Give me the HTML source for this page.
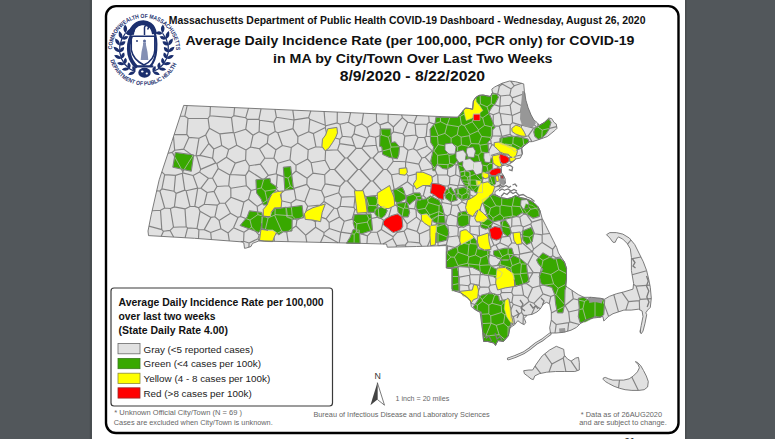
<!DOCTYPE html>
<html><head><meta charset="utf-8">
<style>
html,body{margin:0;padding:0;width:775px;height:439px;overflow:hidden;background:#fff;font-family:"Liberation Sans", sans-serif;}
svg{display:block}
</style></head><body>
<svg width="775" height="439" viewBox="0 0 775 439" style='font-family: "Liberation Sans", sans-serif;'>
<rect x="0" y="0" width="92" height="439" fill="#52575b"/>
<rect x="685" y="0" width="90" height="439" fill="#52575b"/>
<rect x="89.8" y="0" width="2" height="439" fill="#484c4f"/>
<rect x="685" y="0" width="1.5" height="439" fill="#484c4f"/>
<rect x="106" y="6.1" width="572.5" height="426.9" rx="10" ry="10" fill="#fff" stroke="#000" stroke-width="2.4"/>
<text x="624.5" y="443.6" font-size="9.5" font-weight="bold" fill="#333">21</text>

<!-- seal -->
<g id="seal" fill="#1b2f6e" stroke="none">
  <defs>
    <path id="arcTop" d="M112.0 49.4 A32.0 32.0 0 0 1 176.0 50.6"/>
    <path id="arcBot" d="M110.2 60.3 A35.3 35.3 0 0 0 177.2 62.1"/>
  </defs>
  <text font-size="5.9" font-weight="bold"><textPath href="#arcTop" textLength="100" lengthAdjust="spacingAndGlyphs">COMMONWEALTH OF MASSACHUSETTS</textPath></text>
  <text font-size="5.8" font-weight="bold"><textPath href="#arcBot" textLength="86" lengthAdjust="spacingAndGlyphs">DEPARTMENT OF PUBLIC HEALTH</textPath></text>
  <path d="M125.4 33.3 Q128.9 28.8 125.1 24.6 Q121.7 29.1 125.4 33.3Z"/>
<path d="M125.4 33.3 Q129.3 36.6 132.6 32.8 Q128.8 29.4 125.4 33.3Z"/>
<path d="M121.8 39.0 Q123.8 33.9 119.2 30.9 Q117.1 36.1 121.8 39.0Z"/>
<path d="M121.8 39.0 Q126.3 41.2 128.5 36.6 Q123.9 34.5 121.8 39.0Z"/>
<path d="M119.8 45.5 Q120.4 40.1 115.2 38.5 Q114.6 43.9 119.8 45.5Z"/>
<path d="M119.8 45.5 Q124.7 46.3 125.5 41.5 Q120.7 40.6 119.8 45.5Z"/>
<path d="M119.7 52.2 Q118.9 46.9 113.5 46.8 Q114.4 52.1 119.7 52.2Z"/>
<path d="M119.7 52.2 Q124.6 51.7 124.1 46.9 Q119.2 47.4 119.7 52.2Z"/>
<path d="M121.4 58.6 Q119.2 53.9 114.1 55.2 Q116.4 59.9 121.4 58.6Z"/>
<path d="M121.4 58.6 Q125.9 56.8 124.1 52.4 Q119.7 54.2 121.4 58.6Z"/>
<path d="M124.8 64.3 Q121.4 60.4 117.0 63.0 Q120.4 66.9 124.8 64.3Z"/>
<path d="M124.8 64.3 Q128.5 61.4 125.7 57.7 Q122.0 60.5 124.8 64.3Z"/>
<path d="M129.5 68.8 Q125.3 66.0 121.8 69.6 Q126.0 72.4 129.5 68.8Z"/>
<path d="M129.5 68.8 Q132.2 65.1 128.6 62.3 Q125.8 66.0 129.5 68.8Z"/>
<path d="M135.2 71.8 Q130.5 70.3 128.2 74.7 Q132.9 76.2 135.2 71.8Z"/>
<path d="M135.2 71.8 Q136.8 67.6 132.6 66.0 Q131.0 70.2 135.2 71.8Z"/>
<path d="M125.4 33.3L121.8 39.0L119.8 45.5L119.7 52.2L121.4 58.6L124.8 64.3L129.5 68.8L135.2 71.8" fill="none" stroke="#1b2f6e" stroke-width="1.2"/>
<path d="M162.6 33.3 Q166.3 29.1 162.9 24.6 Q159.1 28.8 162.6 33.3Z"/>
<path d="M162.6 33.3 Q159.2 29.4 155.4 32.8 Q158.7 36.6 162.6 33.3Z"/>
<path d="M166.2 39.0 Q170.9 36.1 168.8 30.9 Q164.2 33.9 166.2 39.0Z"/>
<path d="M166.2 39.0 Q164.1 34.5 159.5 36.6 Q161.7 41.2 166.2 39.0Z"/>
<path d="M168.2 45.5 Q173.4 43.9 172.8 38.5 Q167.6 40.1 168.2 45.5Z"/>
<path d="M168.2 45.5 Q167.3 40.6 162.5 41.5 Q163.3 46.3 168.2 45.5Z"/>
<path d="M168.3 52.2 Q173.6 52.1 174.5 46.8 Q169.1 46.9 168.3 52.2Z"/>
<path d="M168.3 52.2 Q168.8 47.4 163.9 46.9 Q163.4 51.7 168.3 52.2Z"/>
<path d="M166.6 58.6 Q171.6 59.9 173.9 55.2 Q168.8 53.9 166.6 58.6Z"/>
<path d="M166.6 58.6 Q168.3 54.2 163.9 52.4 Q162.1 56.8 166.6 58.6Z"/>
<path d="M163.2 64.3 Q167.6 66.9 171.0 63.0 Q166.6 60.4 163.2 64.3Z"/>
<path d="M163.2 64.3 Q166.0 60.5 162.3 57.7 Q159.5 61.4 163.2 64.3Z"/>
<path d="M158.5 68.8 Q162.0 72.4 166.2 69.6 Q162.7 66.0 158.5 68.8Z"/>
<path d="M158.5 68.8 Q162.2 66.0 159.4 62.3 Q155.8 65.1 158.5 68.8Z"/>
<path d="M152.8 71.8 Q155.1 76.2 159.8 74.7 Q157.5 70.3 152.8 71.8Z"/>
<path d="M152.8 71.8 Q157.0 70.2 155.4 66.0 Q151.2 67.6 152.8 71.8Z"/>
<path d="M162.6 33.3L166.2 39.0L168.2 45.5L168.3 52.2L166.6 58.6L163.2 64.3L158.5 68.8L152.8 71.8" fill="none" stroke="#1b2f6e" stroke-width="1.2"/>
  <!-- snake top coil -->
  <path d="M131.5 35 C130 22 152 16 154.5 34" fill="none" stroke="#1b2f6e" stroke-width="5"/>
  <ellipse cx="130.8" cy="31.5" rx="4.6" ry="2.8" transform="rotate(-35 130.8 31.5)"/>
  <path d="M144.5 35 L144.5 27.5 Q144.8 25 147.5 25.6 Q149.5 27 147.5 29.5" fill="none" stroke="#1b2f6e" stroke-width="1.5"/>
  <!-- shield -->
  <path d="M131.3 36.2 L154.8 36.2 L154.8 50 Q154.5 60 143.9 65 Q133.3 60 131.3 50 Z" fill="#fff" stroke="#1b2f6e" stroke-width="1.5"/>
  <path d="M143 42.5 h3 v2.5 l1.5 7 l0.8 8 h-7.6 l0.8 -8 l1.5 -7 z" fill="#5a6a9a" opacity="0.75"/>
  <circle cx="144.5" cy="41" r="1.5" fill="#5a6a9a"/>
  <circle cx="137" cy="41" r="0.9" fill="#1b2f6e"/>
  <!-- snake body -->
  <path d="M131.5 35.5 Q127.5 44 129.2 54 Q131 62 137 67.5" fill="none" stroke="#1b2f6e" stroke-width="3.6"/>
  <path d="M154 31 Q157 38 156.2 50 Q155.5 61 150 66.5" fill="none" stroke="#1b2f6e" stroke-width="2.2"/>
  <rect x="134" y="65.2" width="19.5" height="2.4" rx="1"/>
  <ellipse cx="144.5" cy="72.8" rx="6.2" ry="5"/>
  <ellipse cx="142.3" cy="71.5" rx="1.3" ry="1.1" fill="#fff"/>
  <ellipse cx="146.8" cy="73.5" rx="1.1" ry="0.9" fill="#fff"/>
  
</g>

<!-- title -->
<g font-weight="bold" fill="#111">
<text x="168.7" y="23.9" font-size="10.5" textLength="476.8" lengthAdjust="spacingAndGlyphs">Massachusetts Department of Public Health COVID-19 Dashboard - Wednesday, August 26, 2020</text>
<text x="185.4" y="44.6" font-size="13.6" textLength="449" lengthAdjust="spacingAndGlyphs">Average Daily Incidence Rate (per 100,000, PCR only) for COVID-19</text>
<text x="273" y="63.2" font-size="13.6" textLength="279.5" lengthAdjust="spacingAndGlyphs">in MA by City/Town Over Last Two Weeks</text>
<text x="339.7" y="81.4" font-size="14.2" textLength="145.2" lengthAdjust="spacingAndGlyphs">8/9/2020 - 8/22/2020</text>
</g>

<!-- map -->
<g id="map">
  <path d="M183.7 105.4L457.5 117.3L459.8 114.9L463.8 109.7L465.8 108.1L469.4 108.5L472.6 109.3L473.4 101.0L475.8 97.4L479.0 95.4L482.9 95.0L490.3 96.5L492.5 92.8L491.8 89.1L494.8 86.9L502.2 83.2L509.6 81.0L515.5 81.7L523.7 83.9L524.4 91.3L525.9 100.2L528.1 107.6L531.1 115.0L534.0 120.2L537.0 122.4L539.2 125.4L544.4 122.4L548.8 118.0L551.8 118.7L554.0 122.4L556.2 123.9L557.0 128.3L554.8 130.5L551.1 133.5L547.4 136.5L541.4 138.7L537.0 140.2L532.6 141.6L529.2 141.8L526.2 144.1L521.8 147.8L522.5 153.7L520.3 158.1L515.9 158.9L512.9 161.8L509.2 164.0L506.0 165.0L502.0 165.5L501.3 168.8L501.3 172.5L503.2 175.0L505.1 178.8L505.3 183.3L501.2 187.4L497.0 190.5L495.0 191.5L495.0 194.6L501.2 197.7L507.3 198.7L511.4 197.7L515.5 195.6L520.6 197.7L525.8 198.7L530.9 200.8L534.0 202.8L538.1 206.9L540.1 211.0L542.1 218.3L545.8 225.6L549.4 232.9L553.1 240.2L556.7 247.5L558.5 253.0L564.3 261.8L566.5 268.3L566.5 279.1L565.4 285.6L567.4 287.3L572.8 290.9L578.3 294.6L583.8 297.3L591.1 297.3L600.2 298.2L604.7 299.2L609.3 296.4L616.6 293.7L623.9 291.9L633.0 289.1L633.6 283.4L632.5 277.0L631.4 270.5L631.4 257.5L630.3 248.8L627.1 243.4L622.8 239.1L618.4 236.9L616.7 239.1L615.2 242.3L613.0 242.3L609.8 238.0L606.5 234.7L609.8 232.6L616.3 232.6L622.8 234.1L629.3 238.0L634.7 244.5L639.0 253.1L643.3 261.8L646.6 270.5L648.7 279.1L650.3 287.3L651.3 298.2L650.3 307.4L647.6 310.1L645.8 312.8L646.7 314.7L644.9 323.8L643.0 331.1L641.2 333.8L640.0 332.0L641.2 325.6L643.0 316.5L642.1 311.0L638.5 309.2L631.2 310.1L623.9 310.1L618.4 311.9L613.0 313.7L608.4 316.5L605.7 319.2L603.8 321.0L602.9 316.5L598.4 317.4L591.1 318.3L585.6 320.1L580.1 323.8L576.5 327.4L571.0 330.2L563.7 332.3L556.0 333.0L550.5 333.0L549.7 327.8L551.3 319.9L551.3 311.9L549.7 303.9L546.6 302.3L543.4 303.9L540.2 309.1L537.0 311.9L532.2 314.3L527.4 315.1L524.2 318.3L525.8 322.3L524.2 324.7L521.0 323.1L517.8 320.7L514.7 324.7L512.3 326.3L509.9 327.8L508.3 335.8L503.5 341.4L497.9 340.6L495.5 345.4L493.9 343.0L487.5 341.4L483.6 341.4L482.8 332.6L481.1 320.0L480.1 312.4L476.2 310.4L473.3 308.5L471.4 306.6L470.4 300.8L466.6 296.9L460.8 293.0L455.0 291.1L452.1 289.1L452.1 268.8L446.3 267.9L446.3 245.6L416.7 246.5L387.3 247.2L386.5 244.1L361.0 243.4L330.0 242.6L258.7 241.0L252.5 243.4L251.0 246.5L246.3 248.0L244.5 248.3L243.8 242.9L242.0 241.9L194.6 238.3L148.5 235.6L148.0 231.0L151.2 214.9L159.2 179.8L171.9 141.5ZM523.7 370.7L528.9 370.0L532.6 370.0L536.3 364.1L542.2 355.9L549.6 350.0L556.3 346.3L560.0 347.8L563.7 349.3L564.4 355.2L567.4 358.9L571.1 361.1L575.6 358.1L578.5 357.4L579.3 362.6L579.3 370.0L574.8 371.5L564.4 371.5L555.6 371.5L546.7 372.2L539.3 373.7L534.8 375.9L533.3 379.6L531.1 378.9L527.4 375.9L524.4 373.7ZM603.2 378.1L605.3 377.4L608.7 378.8L612.8 380.1L618.2 380.1L623.7 380.1L629.2 378.8L633.3 376.0L637.4 371.9L639.4 367.8L638.1 364.4L635.3 361.7L637.4 362.3L640.8 365.8L643.5 370.5L646.3 376.0L648.3 381.5L647.6 387.0L644.2 389.7L638.8 390.4L631.9 390.4L625.1 389.7L619.6 388.3L614.1 386.3L608.7 383.5L605.3 381.5L603.2 379.4Z" fill="#e1e1e1" fill-rule="nonzero"/>
  <path d="M550.2 333.8L546.0 337.0L542.1 340.0L536.0 343.6L529.8 348.7L523.7 352.8L515.5 356.4L508.3 358.9" fill="none" stroke="#707070" stroke-width="2.8" stroke-linecap="round"/><path d="M550.2 333.8L546.0 337.0L542.1 340.0L536.0 343.6L529.8 348.7L523.7 352.8L515.5 356.4L508.3 358.9" fill="none" stroke="#e1e1e1" stroke-width="1.2" stroke-linecap="round"/>
  <path d="M638.4 390.4L631.8 377.0M618.5 387.9L619.5 380.1M186.8 134.4L174.2 134.6M186.8 134.4L188.0 118.2M180.2 116.2L184.8 116.2M184.8 116.2L188.0 118.2M565.9 371.5L563.2 357.9M549.0 372.0L551.9 364.0M563.2 357.9L551.9 364.0M577.4 370.6L571.0 361.1M563.2 357.9L564.7 355.6M208.1 118.5L188.0 118.2M208.1 118.5L209.9 115.7M184.8 116.2L187.1 105.5M209.9 115.7L210.4 106.6M209.9 115.7L231.5 117.6M234.6 107.6L233.8 115.6M231.5 117.6L233.8 115.6M161.9 188.9L174.1 191.3M161.9 188.9L164.7 174.6M174.1 191.3L175.5 175.4M164.7 174.6L175.5 175.4M159.9 191.0L164.7 208.0M159.9 191.0L161.9 188.9M174.4 206.9L170.4 208.5M164.7 208.0L170.4 208.5M176.1 193.4L174.1 191.3M176.1 193.4L174.4 206.9M156.7 190.9L159.9 191.0M161.8 171.8L164.7 174.6M176.1 193.4L184.8 190.1M184.8 190.1L182.3 173.3M182.3 173.3L175.5 175.4M152.1 210.8L160.5 210.2M149.0 226.1L161.8 229.6M161.8 229.6L160.5 210.2M164.7 208.0L160.5 210.2M161.2 236.3L163.5 231.3M163.5 231.3L161.8 229.6M163.5 231.3L170.1 230.4M170.1 230.4L173.5 227.2M173.5 227.2L170.4 208.5M186.1 190.7L190.0 206.5M184.8 190.1L186.1 190.7M174.4 206.9L185.0 208.9M190.0 206.5L185.0 208.9M173.5 227.2L186.2 226.8M185.0 208.9L186.2 226.8M170.1 230.4L173.6 237.1M185.1 237.7L187.6 227.9M186.2 226.8L187.6 227.9M631.0 240.0L627.5 244.2M640.9 257.0L631.4 258.9M640.2 299.4L636.1 286.1M640.2 299.4L651.3 298.6M636.1 286.1L649.9 285.1M646.6 270.7L632.1 274.8M633.5 284.3L636.1 286.1M640.2 299.4L639.3 300.6M639.3 300.6L639.6 309.8M640.4 329.8L640.5 332.8M209.4 128.3L219.9 133.9M208.1 118.5L209.4 128.3M231.5 117.6L233.3 132.4M219.9 133.9L233.3 132.4M186.1 190.7L197.7 188.1M182.3 173.3L182.7 172.9M182.7 172.9L193.1 175.5M193.1 175.5L197.7 188.1M194.8 206.4L190.0 206.5M194.8 206.4L197.7 188.1M197.7 188.1L197.7 188.1M168.0 153.3L172.3 152.4M182.7 172.9L182.8 171.6M182.8 171.6L172.3 152.4M173.5 136.8L174.7 150.3M174.7 150.3L172.3 152.4M197.0 228.5L187.6 227.9M194.8 206.4L198.5 207.8M197.0 228.5L200.0 211.3M200.0 211.3L198.5 207.8M204.2 229.6L211.0 217.4M198.9 229.8L204.2 229.6M197.0 228.5L198.9 229.8M200.0 211.3L211.0 217.4M310.8 110.9L308.6 117.6M292.8 110.1L294.1 119.9M308.6 117.6L294.1 119.9M502.3 83.2L502.2 84.0M510.8 81.1L514.2 85.8M502.2 84.0L511.1 88.9M511.1 88.9L514.2 85.8M521.6 83.3L514.2 85.8M602.1 298.6L608.6 316.4M595.0 297.7L595.0 317.8M584.5 301.4L582.9 308.8M584.5 301.4L591.0 297.3M582.9 308.8L586.0 320.0M628.5 301.6L625.8 310.1M628.5 301.6L622.0 292.4M618.5 311.9L613.8 294.7M639.3 300.6L628.5 301.6M258.9 119.3L261.0 108.8M258.9 119.3L247.2 119.4M245.7 117.8L247.2 119.4M245.7 117.8L248.5 108.2M233.3 132.4L234.0 133.0M245.7 129.3L234.0 133.0M233.8 115.6L245.7 117.8M245.7 129.3L247.2 119.4M294.1 119.9L294.0 120.0M276.4 117.2L294.0 120.0M276.4 117.2L275.0 109.4M273.7 122.1L259.6 120.3M273.7 122.1L275.2 131.5M275.2 131.5L268.2 135.4M268.2 135.4L259.1 131.7M259.1 131.7L259.6 120.3M276.4 117.2L273.7 122.1M258.9 119.3L259.6 120.3M294.0 120.0L293.0 128.6M277.8 132.7L293.0 128.6M277.8 132.7L275.2 131.5M245.7 129.3L253.0 135.2M253.0 135.2L259.1 131.7M209.4 128.3L205.7 134.9M219.9 133.9L221.7 145.5M205.7 134.9L208.8 143.5M208.8 143.5L213.8 149.0M221.7 145.5L213.8 149.0M193.1 175.5L199.6 172.1M201.0 188.2L197.7 188.1M201.0 188.2L208.4 178.3M199.6 172.1L208.4 178.3M183.7 149.1L192.8 155.8M183.7 149.1L188.9 137.4M188.9 137.4L199.0 138.3M199.0 138.3L196.1 155.6M196.1 155.6L192.8 155.8M182.8 171.6L192.8 155.8M174.7 150.3L183.7 149.1M186.8 134.4L188.9 137.4M205.7 134.9L199.0 138.3M221.0 228.8L219.1 220.4M221.0 228.8L210.7 232.5M210.7 232.5L204.2 229.6M211.0 217.4L214.9 216.8M219.1 220.4L214.9 216.8M527.4 105.2L523.8 104.5M524.8 93.5L524.8 93.5M524.8 93.5L523.8 104.5M530.6 113.8L525.1 116.1M525.1 116.1L520.4 111.9M520.4 111.9L521.7 105.7M523.8 104.5L521.7 105.7M524.8 93.5L512.2 97.9M521.7 105.7L512.8 101.1M512.8 101.1L512.2 97.9M511.1 88.9L509.9 95.0M509.9 95.0L512.2 97.9M500.5 96.0L509.9 95.0M502.2 84.0L499.4 86.3M500.5 96.0L497.7 93.9M499.4 86.3L497.7 93.9M579.4 324.5L569.8 321.9M582.9 308.8L568.7 312.0M568.7 312.0L569.8 321.9M567.7 331.2L568.7 322.6M568.7 322.6L569.8 321.9M556.7 126.6L542.2 130.1M537.9 123.6L537.8 127.0M542.2 130.1L537.8 127.0M542.2 130.1L541.7 138.6M525.1 116.1L525.1 116.2M525.1 116.2L536.7 127.2M537.8 127.0L536.7 127.2M337.3 112.1L337.2 122.9M350.6 112.7L348.5 122.3M348.5 122.3L340.0 124.3M337.2 122.9L340.0 124.3M198.9 229.8L198.5 238.6M210.7 232.5L211.4 239.6M234.0 133.0L236.7 145.2M221.7 145.5L228.7 149.4M228.7 149.4L236.7 145.2M250.5 147.0L253.0 135.2M250.5 147.0L246.0 149.9M236.7 145.2L246.0 149.9M200.7 169.4L215.8 162.9M200.7 169.4L196.5 155.7M199.8 155.4L196.5 155.7M199.8 155.4L212.6 158.3M212.6 158.3L215.8 162.9M196.1 155.6L196.5 155.7M199.6 172.1L200.7 169.4M208.8 143.5L199.8 155.4M213.8 149.0L212.6 158.3M500.5 96.0L499.9 106.2M512.8 101.1L510.1 105.2M499.9 106.2L510.1 105.2M520.4 111.9L512.2 115.6M512.2 115.6L511.6 115.0M511.6 115.0L510.1 105.2M568.7 312.0L565.3 305.8M584.5 301.4L573.3 298.8M573.3 298.8L565.4 305.3M565.3 305.8L565.4 305.3M551.9 364.0L544.8 353.9M568.7 322.6L556.2 324.5M555.0 333.0L556.2 324.5M540.7 373.4L535.0 366.2M532.0 141.6L528.4 135.7M536.7 127.2L533.7 128.1M533.7 128.1L528.4 135.7M525.1 116.2L522.0 125.3M533.7 128.1L522.0 125.3M512.2 115.6L512.5 122.6M522.0 125.3L521.6 125.4M512.5 122.6L521.6 125.4M282.4 145.5L275.9 149.8M277.8 132.7L282.4 145.5M268.2 135.4L267.3 143.2M275.9 149.8L267.3 143.2M250.5 147.0L259.4 148.8M259.4 148.8L267.3 143.2M297.9 136.6L293.0 128.6M297.9 136.6L297.7 143.1M282.4 145.5L291.3 147.5M297.7 143.1L291.3 147.5M275.9 149.8L273.9 158.2M259.4 148.8L264.9 158.0M264.9 158.0L273.9 158.2M228.1 232.9L233.5 227.8M228.1 232.9L229.3 240.9M233.5 227.8L244.0 232.3M240.8 241.8L243.6 241.2M244.0 232.3L243.6 241.2M219.1 220.4L230.5 213.2M230.5 213.2L238.0 217.4M221.0 228.8L228.1 232.9M238.0 217.4L233.5 227.8M243.6 241.2L249.1 243.0M249.1 243.0L248.9 247.2M226.4 157.3L235.3 163.1M226.4 157.3L216.9 163.6M218.2 168.4L216.9 163.6M218.2 168.4L229.8 174.9M235.3 163.1L230.4 174.5M230.4 174.5L229.8 174.9M228.7 149.4L226.4 157.3M245.6 160.0L246.0 149.9M245.6 160.0L235.3 163.1M215.8 162.9L216.9 163.6M212.5 178.0L218.2 168.4M212.5 178.0L208.4 178.3M217.0 186.5L228.7 185.7M228.7 185.7L229.8 174.9M212.5 178.0L217.0 186.5M246.3 185.7L245.6 175.4M245.6 175.4L230.4 174.5M228.7 185.7L230.8 188.3M230.8 188.3L246.3 185.7M217.4 205.1L219.7 203.3M217.4 205.1L204.3 204.2M219.7 203.3L214.1 191.4M204.3 204.2L207.1 192.5M207.1 192.5L214.1 191.4M214.9 216.8L217.4 205.1M230.5 213.2L225.2 203.2M225.2 203.2L219.7 203.3M198.5 207.8L204.3 204.2M230.9 197.3L230.8 188.3M225.2 203.2L230.9 197.3M217.0 186.5L214.1 191.4M201.0 188.2L207.1 192.5M492.2 94.4L492.1 93.5M492.2 94.4L491.7 94.7M491.7 94.7L491.4 94.7M499.4 86.3L497.7 85.4M497.7 93.9L492.2 94.4M499.8 106.4L499.9 106.2M499.8 106.4L491.2 103.8M491.2 103.8L491.7 94.7M480.4 103.9L487.0 106.8M491.2 103.8L487.0 106.8M480.4 103.9L480.2 95.3M480.4 103.9L478.9 105.4M478.9 105.4L473.0 105.2M565.3 305.8L551.3 313.1M556.2 324.5L551.3 320.1M542.3 218.7L541.9 219.1M541.9 219.1L542.7 234.3M542.7 234.3L549.7 233.5M522.8 137.2L520.1 135.4M522.8 137.2L523.7 144.4M520.1 135.4L513.3 137.1M523.7 144.4L521.2 148.0M521.2 148.0L512.8 143.5M513.3 137.1L512.8 143.5M528.4 135.7L522.8 137.2M521.6 125.4L520.1 135.4M526.0 144.3L523.7 144.4M522.2 154.4L521.2 148.0M325.3 127.5L313.4 133.6M325.3 127.5L325.8 125.8M325.3 125.2L309.8 119.2M325.3 125.2L325.8 125.8M309.8 119.2L308.7 131.7M308.7 131.7L313.4 133.6M308.6 117.6L309.8 119.2M324.1 111.5L325.3 125.2M337.2 122.9L325.8 125.8M297.9 136.6L308.7 131.7M315.9 146.7L313.4 133.6M315.9 146.7L308.2 149.8M308.2 149.8L297.7 143.1M325.3 127.5L327.1 135.8M315.9 146.7L322.5 147.3M322.5 147.3L327.1 135.8M325.1 160.3L330.0 169.5M334.6 169.5L330.0 169.5M325.6 150.4L337.6 149.8M325.1 160.3L325.6 150.4M334.6 169.5L345.0 158.0M345.0 158.0L337.6 149.8M325.1 160.3L311.1 162.7M330.0 169.5L324.7 174.7M324.7 174.7L313.0 173.1M311.1 162.7L313.0 173.1M325.6 150.4L322.5 147.3M308.2 149.8L307.6 159.0M311.1 162.7L307.6 159.0M249.3 165.8L248.8 170.4M249.3 165.8L260.3 164.1M248.8 170.4L263.5 180.0M260.3 164.1L268.3 175.4M268.3 175.4L263.5 180.0M245.6 160.0L249.3 165.8M245.6 175.4L248.8 170.4M264.9 158.0L260.3 164.1M246.3 185.7L251.0 190.5M261.3 187.9L263.5 180.0M251.0 190.5L261.3 187.9M251.7 227.0L259.1 235.1M251.7 227.0L244.0 232.3M249.1 243.0L258.0 238.8M259.1 235.1L258.0 238.8M340.1 186.4L338.7 192.8M340.1 186.4L345.0 181.0M355.1 196.5L357.7 192.5M355.1 196.5L341.5 197.1M357.7 192.5L347.4 181.0M345.0 181.0L347.4 181.0M341.5 197.1L338.7 192.8M325.0 183.9L340.1 186.4M325.0 183.9L321.5 190.7M321.5 190.7L324.4 197.5M324.4 197.5L338.7 192.8M324.7 174.7L325.0 183.9M334.6 169.5L345.0 181.0M347.4 181.0L357.8 169.5M345.0 158.0L347.4 158.0M357.8 169.5L347.4 158.0M478.9 105.4L477.0 115.3M467.3 108.3L467.2 112.5M467.2 112.5L474.0 116.5M474.0 116.5L477.0 115.3M424.6 137.5L418.1 137.3M424.6 137.5L427.2 146.2M418.1 137.3L413.5 148.8M427.2 146.2L416.5 150.5M413.5 148.8L416.5 150.5M565.4 305.3L556.0 294.4M549.2 303.6L550.8 296.5M556.0 294.4L550.8 296.5M573.3 298.8L572.0 290.4M565.6 284.3L558.2 288.2M556.0 294.4L558.2 288.2M540.4 308.8L535.5 305.7M531.5 314.4L535.5 305.7M550.8 296.5L543.0 293.9M543.0 293.9L533.9 303.3M535.5 305.7L533.9 303.3M258.0 238.8L259.3 241.0M558.2 288.2L553.6 283.9M553.6 283.9L539.9 285.5M543.0 293.9L539.8 285.8M539.9 285.5L539.8 285.8M538.5 207.8L530.7 209.2M541.9 219.1L531.9 222.1M531.9 222.1L526.4 214.1M530.7 209.2L526.4 214.1M427.2 146.2L432.3 150.9M416.5 150.5L421.9 158.0M421.9 158.0L425.0 157.2M425.0 157.2L432.3 150.9M501.8 278.0L501.5 281.5M513.0 286.9L501.5 281.5M514.0 286.0L512.4 274.2M513.0 286.9L514.0 286.0M501.8 278.0L512.1 274.0M512.1 274.0L512.4 274.2M523.0 283.7L521.8 284.8M514.0 286.0L521.8 284.8M523.0 283.7L520.1 274.0M512.4 274.2L520.1 274.0M523.0 283.7L526.5 283.5M533.0 272.6L526.5 283.5M533.0 272.6L520.6 273.6M520.1 274.0L520.6 273.6M530.7 209.2L524.9 202.1M524.9 202.1L525.3 198.6M407.7 122.3L403.0 133.8M407.7 122.3L413.8 123.1M413.8 123.1L415.1 124.4M415.1 124.4L415.9 135.0M415.9 135.0L404.8 136.1M404.8 136.1L403.0 133.8M366.9 243.6L367.5 235.9M367.5 235.9L356.3 232.1M356.3 232.1L354.2 234.1M354.2 234.1L354.1 243.2M392.8 238.6L382.9 244.0M396.5 245.5L392.8 238.6M396.5 245.5L396.2 247.0M288.1 241.7L286.7 232.3M286.7 232.3L296.0 226.0M296.0 226.0L305.6 235.2M306.8 242.1L305.6 235.2M334.2 208.0L326.0 218.9M334.2 208.0L324.0 201.5M326.0 218.9L321.2 217.1M324.0 201.5L320.1 205.1M321.2 217.1L320.1 205.1M264.6 232.2L274.0 234.9M264.6 232.2L268.1 217.9M268.1 217.9L274.6 215.1M274.6 215.1L281.7 231.1M281.7 231.1L274.0 234.9M259.1 235.1L264.6 232.2M274.3 241.3L274.0 234.9M286.7 232.3L281.7 231.1M369.4 136.0L367.0 138.2M367.0 127.5L369.4 136.0M367.0 127.5L361.8 123.9M355.3 126.2L354.0 133.9M355.3 126.2L361.8 123.9M354.0 133.9L367.0 138.2M375.5 137.3L376.3 145.2M375.5 137.3L369.4 136.0M376.3 145.2L363.1 146.4M367.0 138.2L363.1 146.4M356.1 148.4L361.9 148.4M361.9 148.4L370.6 158.0M347.4 158.0L356.1 148.4M357.8 169.5L360.2 169.5M360.2 169.5L370.6 158.0M361.9 148.4L363.1 146.4M378.3 152.2L376.3 145.2M378.3 152.2L373.0 158.0M373.0 158.0L370.6 158.0M428.4 221.0L432.9 227.9M419.4 234.0L432.9 227.9M428.4 221.0L420.6 220.6M419.4 234.0L417.1 231.5M417.1 231.5L420.6 220.6M447.1 253.3L446.3 253.5M447.1 253.3L447.6 245.9M447.6 245.9L446.4 244.6M446.4 244.6L438.4 245.8M512.5 122.6L510.2 124.8M513.3 137.1L510.1 134.3M510.2 124.8L510.1 134.3M487.0 106.8L489.2 113.3M477.0 115.3L482.7 117.8M489.2 113.3L482.7 117.8M511.3 144.8L512.8 143.5M511.3 144.8L501.6 143.5M510.1 134.3L502.2 136.4M501.6 143.5L502.2 136.4M450.0 117.0L447.3 124.8M440.4 116.6L440.5 121.7M440.5 121.7L447.1 124.9M447.3 124.8L447.1 124.9M460.1 116.5L459.0 115.7M460.1 116.5L461.4 124.6M458.7 126.7L461.4 124.6M458.7 126.7L447.3 124.8M467.2 112.5L460.1 116.5M433.8 123.9L429.2 122.2M433.8 123.9L438.2 135.6M426.2 136.2L427.3 124.0M426.2 136.2L437.5 136.5M427.3 124.0L429.2 122.2M437.5 136.5L438.2 135.6M440.5 121.7L433.8 123.9M428.7 116.0L429.2 122.2M444.9 133.4L447.1 124.9M444.9 133.4L438.2 135.6M418.1 137.3L415.9 135.0M424.6 137.5L426.2 136.2M415.1 124.4L427.3 124.0M416.9 115.5L413.8 123.1M361.8 123.9L363.5 113.2M367.0 127.5L376.6 121.9M376.6 121.9L376.4 113.8M402.4 117.6L401.6 114.9M402.4 117.6L407.7 122.3M348.5 122.3L355.3 126.2M558.8 269.7L555.9 257.8M558.8 269.7L566.5 273.6M555.9 257.8L561.1 256.9M550.9 274.5L553.6 283.9M550.9 274.5L558.8 269.7M552.8 255.7L555.9 257.8M552.6 249.3L552.8 255.7M555.6 245.3L552.6 249.3M491.0 323.1L481.6 323.6M491.0 323.1L490.7 315.9M488.8 313.8L490.7 315.9M488.8 313.8L480.4 314.4M485.8 336.0L491.1 323.2M485.8 336.0L499.1 334.7M499.1 334.7L496.3 325.3M491.1 323.2L496.3 325.3M491.0 323.1L491.1 323.2M483.3 338.5L485.8 336.0M505.1 339.6L499.1 334.7M533.0 272.6L533.2 272.4M526.5 283.5L532.5 287.7M532.5 287.7L539.8 285.8M539.9 285.5L539.5 272.8M533.2 272.4L539.5 272.8M550.9 274.5L540.5 272.1M552.8 255.7L543.0 260.4M543.0 260.4L540.5 272.1M540.5 272.1L539.5 272.8M392.8 238.6L393.2 236.7M393.2 236.7L381.3 229.5M380.8 243.9L377.2 232.3M381.3 229.5L377.2 232.3M367.5 235.9L371.0 232.1M371.0 232.1L377.2 232.3M444.9 133.4L451.1 138.1M458.7 126.7L457.3 134.7M457.3 134.7L451.1 138.1M433.9 151.0L437.6 155.4M433.9 151.0L438.1 144.6M437.6 155.4L447.6 154.1M438.1 144.6L447.8 146.4M447.8 146.4L447.6 154.1M437.5 136.5L438.1 144.6M432.3 150.9L433.9 151.0M451.1 138.1L451.2 143.1M451.2 143.1L447.8 146.4M438.0 245.9L438.0 233.2M446.4 244.6L448.2 237.4M448.2 237.4L438.0 233.2M427.5 246.2L434.7 229.1M438.0 233.2L434.7 229.1M419.6 242.9L419.4 234.0M419.6 242.9L421.8 246.3M432.9 227.9L434.5 228.6M434.5 228.6L434.7 229.1M496.0 205.8L489.9 195.5M496.0 205.8L490.5 208.0M490.5 208.0L482.4 203.1M489.9 195.5L482.4 197.6M482.4 197.6L482.4 203.1M501.6 205.2L501.8 197.8M491.8 193.6L498.0 196.1M500.0 206.3L501.6 205.2M500.0 206.3L496.0 205.8M491.8 193.6L489.9 195.5M469.9 233.5L470.1 226.0M479.5 235.8L469.9 233.5M479.5 235.8L479.1 226.3M470.1 226.0L479.1 226.3M448.2 237.4L448.7 237.0M448.7 237.0L447.9 225.2M447.9 225.2L445.9 223.7M434.5 228.6L437.7 226.4M445.9 223.7L437.7 226.4M425.0 157.2L434.7 167.9M437.6 155.4L437.6 164.2M437.6 164.2L434.7 167.9M421.3 170.7L420.4 172.9M421.3 170.7L434.5 168.2M420.4 172.9L423.8 182.5M434.5 168.2L436.9 174.2M436.9 174.2L423.8 182.5M423.8 182.5L423.8 182.5M418.8 164.1L421.3 170.7M421.9 158.0L418.8 164.1M434.7 167.9L434.5 168.2M487.8 249.5L493.9 245.1M487.8 249.5L479.6 243.6M493.9 245.1L489.7 234.7M489.7 234.7L481.1 238.3M479.6 243.6L481.1 238.3M500.9 258.2L502.1 256.6M495.9 245.1L502.1 256.6M487.8 254.4L487.8 249.5M487.8 254.4L500.9 258.2M495.9 245.1L493.9 245.1M487.2 255.2L481.0 257.8M481.0 257.8L475.4 255.0M475.4 255.0L478.2 244.2M478.2 244.2L479.6 243.6M487.8 254.4L487.2 255.2M502.1 256.6L508.1 254.0M495.9 245.1L499.9 242.7M499.9 242.7L508.3 246.6M508.3 246.6L508.1 254.0M510.8 267.9L512.2 265.7M512.2 265.7L508.9 254.4M500.9 258.2L500.1 264.5M500.1 264.5L510.8 267.9M508.1 254.0L508.9 254.4M459.4 292.6L459.7 284.8M459.7 284.8L459.0 283.6M459.0 283.6L452.1 285.0M405.4 244.9L408.0 241.7M405.4 244.9L406.0 246.8M408.0 241.7L419.6 242.9M396.5 245.5L405.4 244.9M499.9 283.7L501.5 281.5M490.3 285.2L499.9 283.7M501.8 278.0L500.2 275.9M490.3 285.2L488.2 275.0M488.2 275.0L500.2 275.9M512.1 274.0L510.8 267.9M500.1 264.5L499.6 265.1M499.6 265.1L500.2 275.9M470.3 274.5L480.1 274.8M480.1 274.8L479.2 285.4M469.5 275.3L470.3 274.5M469.5 275.3L470.5 283.5M479.2 285.4L470.5 283.5M462.8 294.3L469.8 294.0M459.7 284.8L468.6 285.7M469.8 294.0L468.6 285.7M459.4 277.1L459.0 283.6M469.5 275.3L459.4 277.1M470.5 283.5L468.6 285.7M522.7 235.0L523.3 227.0M522.7 235.0L511.2 232.6M523.3 227.0L521.4 225.5M521.4 225.5L511.7 226.3M511.7 226.3L510.2 228.1M510.2 228.1L511.2 232.6M499.9 242.7L501.2 237.1M508.3 246.6L511.8 242.8M511.8 242.8L509.7 236.1M509.7 236.1L501.2 237.1M510.2 228.1L501.9 226.1M512.0 216.1L511.7 226.3M512.0 216.1L503.7 217.4M503.7 217.4L501.9 226.1M534.5 233.7L542.1 234.9M534.5 233.7L529.3 237.1M529.3 237.1L533.6 249.1M542.1 234.9L542.2 242.4M542.2 242.4L533.6 249.1M531.9 222.1L530.7 224.0M530.7 224.0L534.5 233.7M542.7 234.3L542.1 234.9M523.3 227.0L530.7 224.0M522.7 235.0L523.1 236.0M523.1 236.0L529.3 237.1M552.6 249.3L542.2 242.4M505.1 183.5L502.1 182.7M503.0 174.7L501.1 175.8M501.1 175.8L502.1 182.7M500.4 188.0L499.2 185.9M499.2 185.9L502.1 182.7M408.0 150.2L405.7 161.7M408.0 150.2L403.5 146.5M403.5 146.5L391.1 147.1M405.6 161.8L405.7 161.7M405.6 161.8L393.2 161.3M393.2 161.3L390.1 148.9M390.1 148.9L391.1 147.1M413.5 148.8L408.0 150.2M418.8 164.1L405.7 161.7M404.8 136.1L403.5 146.5M408.2 176.0L420.4 172.9M408.2 176.0L405.5 172.5M405.5 172.5L405.6 161.8M391.5 174.8L405.5 172.5M386.9 169.5L391.5 174.8M386.9 169.5L393.2 161.3M383.4 169.5L373.0 158.0M386.9 169.5L383.4 169.5M378.3 152.2L390.1 148.9M393.4 127.0L388.1 122.1M393.4 127.0L393.4 131.9M393.4 131.9L388.4 137.2M388.1 122.1L380.0 124.9M380.0 124.9L381.5 135.0M381.5 135.0L388.4 137.2M388.2 114.3L388.1 122.1M402.4 117.6L393.4 127.0M403.0 133.8L393.4 131.9M391.1 147.1L388.4 137.2M376.6 121.9L380.0 124.9M375.5 137.3L381.5 135.0M307.6 159.0L296.0 165.3M313.0 173.1L307.1 178.2M307.1 178.2L296.0 171.0M296.0 165.3L296.0 171.0M291.3 147.5L290.0 159.8M296.0 165.3L290.0 159.8M273.9 158.2L277.8 163.3M290.0 159.8L277.8 163.3M268.3 175.4L276.2 173.7M277.8 163.3L276.2 173.7M257.2 206.4L257.9 214.6M257.2 206.4L248.5 199.2M243.9 202.1L248.5 199.2M243.9 202.1L240.5 216.5M257.9 214.6L250.0 220.1M240.5 216.5L250.0 220.1M274.6 215.1L275.0 214.6M275.3 205.9L275.0 214.6M267.1 200.4L257.2 206.4M267.1 200.4L275.3 205.9M268.1 217.9L257.9 214.6M265.0 191.2L261.3 187.9M251.0 190.5L248.5 199.2M265.0 191.2L267.1 200.4M230.9 197.3L243.9 202.1M238.0 217.4L240.5 216.5M251.7 227.0L250.0 220.1M290.3 186.2L281.1 193.1M290.3 186.2L288.0 178.1M277.3 174.6L288.0 178.1M277.3 174.6L276.2 189.3M276.2 189.3L281.1 193.1M296.0 171.0L288.0 178.1M276.2 173.7L277.3 174.6M265.0 191.2L276.2 189.3M275.3 205.9L281.2 200.7M281.2 200.7L281.1 193.1M329.3 228.5L340.8 232.3M329.3 228.5L324.0 232.6M323.9 234.9L324.0 232.6M323.9 234.9L338.2 242.8M339.2 242.8L340.8 232.3M315.6 227.3L324.0 232.6M315.6 227.3L315.3 221.7M329.1 222.4L329.3 228.5M326.0 218.9L329.1 222.4M321.2 217.1L315.3 221.7M320.5 242.4L323.9 234.9M305.6 235.2L315.6 227.3M354.2 234.1L341.0 232.1M341.0 232.1L340.8 232.3M329.1 222.4L339.5 217.0M341.0 232.1L344.3 221.2M344.3 221.2L339.5 217.0M355.1 196.5L353.9 207.4M341.5 197.1L340.1 206.3M353.9 207.4L340.1 206.3M334.2 208.0L337.1 208.7M339.5 217.0L337.1 208.7M324.0 201.5L324.4 197.5M340.1 206.3L337.1 208.7M360.2 169.5L370.6 181.0M357.7 192.5L360.7 192.0M360.7 192.0L370.6 181.0M383.4 169.5L373.0 181.0M370.6 181.0L373.0 181.0M382.7 191.8L373.0 181.0M391.5 174.8L394.1 189.1M382.7 191.8L390.4 192.5M394.1 189.1L390.4 192.5M351.7 137.2L354.6 145.9M351.7 137.2L342.3 136.3M354.6 145.9L339.6 143.6M342.3 136.3L339.8 139.3M339.8 139.3L339.6 143.6M356.1 148.4L354.6 145.9M354.0 133.9L351.7 137.2M340.0 124.3L342.3 136.3M337.6 149.8L339.6 143.6M327.1 135.8L339.8 139.3M408.0 241.7L404.1 231.1M417.1 231.5L406.9 228.4M404.1 231.1L406.9 228.4M393.2 236.7L397.2 232.4M404.1 231.1L397.2 232.4M406.9 228.4L407.1 223.9M397.2 232.4L391.4 220.5M391.4 220.5L402.1 216.6M402.1 216.6L407.1 223.9M420.6 220.6L416.5 217.1M407.1 223.9L416.5 217.1M493.0 125.9L493.3 114.7M493.0 125.9L499.3 126.1M502.0 124.4L499.3 126.1M502.0 124.4L500.3 113.5M493.3 114.7L499.1 112.5M500.3 113.5L499.1 112.5M482.7 117.8L484.6 125.3M491.4 126.9L484.6 125.3M489.2 113.3L493.3 114.7M491.4 126.9L493.0 125.9M491.4 126.9L491.4 135.8M501.8 136.1L491.4 135.8M501.8 136.1L499.3 126.1M510.2 124.8L502.0 124.4M502.2 136.4L501.8 136.1M511.6 115.0L500.3 113.5M499.8 106.4L499.1 112.5M478.5 129.9L472.3 121.8M478.5 129.9L478.2 130.9M478.2 130.9L469.9 134.6M469.9 134.6L464.3 125.5M464.3 125.5L472.3 121.8M484.6 125.3L478.5 129.9M474.0 116.5L472.3 121.8M461.4 124.6L464.3 125.5M469.4 135.7L469.9 134.6M469.4 135.7L461.1 137.1M457.3 134.7L461.1 137.1M508.0 336.1L508.1 327.0M496.3 325.3L503.6 323.1M508.1 327.0L503.6 323.1M488.8 305.1L492.0 303.3M488.8 305.1L488.8 313.8M490.7 315.9L501.7 312.4M492.0 303.3L501.2 305.7M501.7 312.4L501.2 305.7M503.6 323.1L504.9 314.8M501.7 312.4L504.9 314.8M499.9 283.7L501.5 292.6M490.0 291.6L488.8 287.2M490.3 285.2L488.8 287.2M490.0 291.6L494.6 295.4M494.6 295.4L500.3 294.2M501.5 292.6L500.3 294.2M513.0 286.9L511.7 292.5M501.5 292.6L511.7 292.5M494.6 295.4L492.0 303.3M501.2 305.7L503.4 303.0M500.3 294.2L503.4 303.0M403.4 208.6L404.5 208.0M403.4 208.6L402.1 216.6M404.5 208.0L414.7 208.9M416.5 217.1L416.0 210.1M416.0 210.1L414.7 208.9M371.0 232.1L367.3 222.1M356.3 232.1L356.8 223.8M367.3 222.1L356.8 223.8M344.3 221.2L352.1 219.1M353.9 207.4L355.0 209.4M355.0 209.4L352.1 219.1M356.8 223.8L352.1 219.1M512.4 215.7L519.8 217.1M512.4 215.7L511.7 206.6M520.1 206.7L523.8 214.1M520.1 206.7L512.3 206.0M523.8 214.1L519.8 217.1M512.3 206.0L511.7 206.6M521.4 225.5L519.8 217.1M512.0 216.1L512.4 215.7M500.0 213.8L503.7 217.4M501.6 205.2L511.7 206.6M500.0 206.3L500.0 213.8M524.9 202.1L520.1 206.7M526.4 214.1L523.8 214.1M514.3 196.2L512.3 206.0M447.9 225.2L456.9 226.0M448.7 237.0L457.9 235.8M457.9 235.8L458.4 227.7M456.9 226.0L458.4 227.7M480.2 206.2L480.9 215.9M480.2 206.2L469.8 207.4M480.9 215.9L468.5 215.6M469.8 207.4L468.2 215.2M468.5 215.6L468.2 215.2M469.2 225.0L468.5 215.6M470.1 226.0L469.2 225.0M479.1 226.3L482.0 224.1M480.9 215.9L481.0 215.9M481.0 215.9L482.0 224.1M482.4 203.1L480.2 206.2M490.5 208.0L489.1 214.0M481.0 215.9L489.1 214.0M500.0 213.8L493.1 218.0M489.1 214.0L493.1 218.0M437.7 226.4L438.8 211.6M428.4 221.0L429.8 215.0M438.8 211.6L429.8 215.0M416.0 210.1L425.3 208.3M429.8 215.0L425.3 208.3M425.3 208.3L428.3 202.6M428.3 202.6L439.1 205.8M438.8 211.6L438.9 211.5M439.1 205.8L438.9 211.5M445.9 223.7L447.4 216.0M438.9 211.5L447.4 216.0M449.0 155.4L447.6 154.1M449.0 155.4L449.7 163.4M437.6 164.2L448.0 164.7M449.7 163.4L448.0 164.7M468.8 205.5L461.9 201.9M468.8 205.5L473.4 196.4M461.9 201.9L461.9 195.5M461.9 195.5L466.8 192.9M473.4 196.4L466.8 192.9M469.8 207.4L468.8 205.5M482.4 197.6L479.8 195.2M479.8 195.2L473.4 196.4M436.9 174.2L437.7 175.0M448.0 164.7L447.4 175.0M437.7 175.0L447.4 175.0M455.6 174.8L449.8 176.8M455.6 174.8L456.2 165.0M456.2 165.0L449.7 163.4M449.8 176.8L447.4 175.0M454.4 257.2L458.0 265.5M454.4 257.2L458.0 252.2M458.0 252.2L467.9 255.7M458.0 265.5L467.8 263.2M467.8 263.2L468.8 257.0M468.8 257.0L467.9 255.7M450.8 257.0L454.4 257.2M447.1 253.3L450.8 257.0M447.6 245.9L457.3 248.0M457.3 248.0L458.0 252.2M468.4 263.9L479.3 265.0M481.0 257.8L479.3 265.0M475.4 255.0L468.8 257.0M468.4 263.9L467.8 263.2M458.5 236.5L469.9 233.5M458.5 236.5L460.7 242.7M460.7 242.7L469.0 244.4M469.9 233.5L470.5 243.6M470.5 243.6L469.0 244.4M458.4 227.7L469.2 225.0M457.9 235.8L458.5 236.5M469.9 233.5L469.9 233.5M457.3 248.0L460.7 242.7M467.9 255.7L469.0 244.4M478.2 244.2L470.5 243.6M479.5 235.8L481.1 238.3M511.2 232.6L509.7 236.1M523.1 236.0L520.6 241.2M511.8 242.8L517.8 243.4M520.6 241.2L517.8 243.4M457.4 266.4L447.8 268.1M457.4 266.4L458.8 276.5M458.8 276.5L452.1 276.5M450.8 257.0L446.3 261.8M458.0 265.5L457.4 266.4M468.4 263.9L470.3 274.5M459.4 277.1L458.8 276.5M480.6 274.5L479.6 265.5M480.6 274.5L487.9 274.6M479.6 265.5L489.5 264.8M487.9 274.6L490.9 266.4M489.5 264.8L490.9 266.4M479.3 265.0L479.6 265.5M480.1 274.8L480.6 274.5M488.8 287.2L480.1 286.9M488.2 275.0L487.9 274.6M480.1 286.9L479.2 285.4M487.2 255.2L489.5 264.8M499.6 265.1L490.9 266.4M470.7 294.5L477.3 293.4M470.7 294.5L470.2 300.6M477.3 293.4L482.2 299.6M470.8 303.2L477.5 305.2M477.5 305.2L482.5 301.2M482.5 301.2L482.2 299.6M480.1 286.9L477.3 293.4M469.8 294.0L470.7 294.5M490.0 291.6L482.2 299.6M477.1 310.9L477.5 305.2M488.8 305.1L482.5 301.2M498.9 233.2L501.2 226.5M498.9 233.2L489.9 234.3M501.2 226.5L492.8 222.8M489.9 234.3L488.2 226.1M488.2 226.1L492.8 222.8M501.2 237.1L498.9 233.2M501.9 226.1L501.2 226.5M489.7 234.7L489.9 234.3M493.1 218.0L492.8 222.8M482.0 224.1L488.2 226.1M493.4 187.6L493.8 187.2M493.4 187.6L480.4 184.3M493.8 187.2L489.9 175.7M480.4 184.3L481.0 180.2M481.0 180.2L488.8 175.1M488.8 175.1L489.9 175.7M491.8 193.6L493.4 187.6M499.2 185.9L493.8 187.2M479.3 185.9L480.4 184.3M479.8 195.2L479.3 185.9M499.0 174.7L501.1 175.8M499.0 174.7L489.9 175.7M275.0 214.6L292.2 215.9M281.2 200.7L291.0 203.0M291.0 203.0L292.2 215.9M315.3 221.7L304.5 215.6M320.1 205.1L307.7 206.2M307.7 206.2L304.5 215.6M296.0 226.0L296.9 220.3M304.5 215.6L296.9 220.3M296.9 220.3L292.2 215.9M382.7 191.8L379.6 195.0M360.7 192.0L366.2 196.9M366.2 196.9L379.6 195.0M413.2 194.3L413.1 186.4M413.2 194.3L406.9 196.1M406.9 196.1L395.9 189.0M413.1 186.4L407.4 181.7M407.4 181.7L395.9 189.0M404.5 208.0L406.9 196.1M416.7 196.8L414.7 208.9M416.7 196.8L413.2 194.3M392.5 203.9L390.4 192.5M392.5 203.9L403.4 208.6M394.1 189.1L395.9 189.0M423.8 182.5L413.1 186.4M408.2 176.0L407.4 181.7M521.9 154.8L511.2 157.3M510.7 163.1L511.2 157.3M511.3 144.8L509.0 155.2M511.2 157.3L509.0 155.2M513.4 316.7L514.7 323.3M513.4 316.7L521.6 312.4M523.4 315.1L521.6 312.4M523.4 315.1L523.0 324.1M515.5 323.7L514.7 323.3M504.9 314.8L509.0 314.1M509.0 314.1L513.4 316.7M508.1 327.0L514.7 323.3M527.1 315.4L523.4 315.1M513.3 304.2L511.9 302.1M513.3 304.2L521.8 307.2M511.9 302.1L513.0 295.1M513.0 295.1L523.6 295.3M521.8 307.2L529.0 301.5M523.6 295.3L527.8 298.4M529.0 301.5L527.8 298.4M509.0 314.1L513.3 304.2M503.4 303.0L511.9 302.1M521.6 312.4L521.8 307.2M511.7 292.5L513.0 295.1M521.8 284.8L523.6 295.3M533.9 303.3L529.0 301.5M532.5 287.7L527.8 298.4M427.6 199.7L423.3 195.7M427.6 199.7L437.0 193.0M423.3 195.7L425.9 185.8M425.9 185.8L436.5 187.8M437.0 193.0L436.5 187.8M428.3 202.6L427.6 199.7M416.7 196.8L423.3 195.7M423.8 182.5L425.9 185.8M437.7 175.0L438.3 186.0M438.3 186.0L436.5 187.8M491.4 135.8L490.3 137.4M478.2 130.9L481.6 136.4M481.6 136.4L490.3 137.4M501.6 143.5L498.9 146.6M498.9 146.6L492.0 144.6M492.0 144.6L491.2 143.4M490.3 137.4L491.2 143.4M439.1 205.8L442.1 202.5M437.0 193.0L441.4 197.9M441.4 197.9L442.1 202.5M457.4 205.1L461.8 214.9M457.4 205.1L451.9 205.2M451.9 205.2L450.2 214.3M450.2 214.3L457.8 217.3M457.8 217.3L461.8 214.9M468.2 215.2L461.8 214.9M461.9 201.9L457.4 205.1M442.1 202.5L451.0 204.3M451.0 204.3L451.9 205.2M447.4 216.0L450.2 214.3M456.9 226.0L457.8 217.3M488.8 175.1L486.9 165.9M486.9 165.9L480.4 164.7M480.4 164.7L476.3 167.2M481.0 180.2L475.3 174.2M476.3 167.2L475.3 174.2M468.8 184.9L467.4 177.2M468.8 184.9L467.8 186.1M467.8 186.1L458.6 185.0M458.6 185.0L460.2 176.7M460.2 176.7L464.7 175.6M464.7 175.6L467.4 177.2M475.3 174.2L467.4 177.2M479.3 185.9L468.8 184.9M466.8 192.9L467.8 186.1M464.9 167.2L464.7 175.6M457.1 164.6L464.9 167.2M456.2 165.0L457.1 164.6M455.6 174.8L460.2 176.7M476.3 167.2L468.9 164.3M464.9 167.2L468.9 164.3M519.2 254.8L519.8 254.1M519.2 254.8L520.0 262.6M519.8 254.1L532.3 251.6M527.8 264.2L533.4 253.5M527.8 264.2L521.4 263.9M533.4 253.5L532.4 251.6M520.0 262.6L521.4 263.9M532.4 251.6L532.3 251.6M508.9 254.4L519.2 254.8M517.8 243.4L519.8 254.1M512.2 265.7L520.0 262.6M520.6 241.2L532.3 251.6M533.2 272.4L527.8 264.2M543.0 260.4L533.4 253.5M520.6 273.6L521.4 263.9M533.6 249.1L532.4 251.6M304.8 201.8L296.0 199.5M304.8 201.8L309.8 188.4M296.0 199.5L294.0 188.4M294.0 188.4L306.8 184.4M309.8 188.4L306.8 184.4M291.0 203.0L296.0 199.5M307.7 206.2L304.8 201.8M321.5 190.7L309.8 188.4M290.3 186.2L294.0 188.4M307.1 178.2L306.8 184.4M367.3 222.1L369.1 219.0M355.0 209.4L364.8 210.2M369.1 219.0L364.8 210.2M366.2 196.9L368.9 205.4M379.6 195.0L376.2 205.7M376.2 205.7L368.9 205.4M364.8 210.2L368.9 205.4M457.1 164.6L460.3 155.9M468.9 164.3L467.8 155.6M467.8 155.6L460.3 155.9M451.2 143.1L457.6 146.8M461.1 137.1L461.4 144.9M461.4 144.9L457.6 146.8M449.0 155.4L457.7 153.4M457.6 146.8L457.7 153.4M457.7 153.4L460.3 155.9M490.0 163.3L489.8 155.8M490.0 163.3L497.2 163.9M489.8 155.8L500.6 152.5M497.2 163.9L497.6 163.7M497.6 163.7L502.0 154.1M500.6 152.5L502.0 154.1M486.9 165.9L490.0 163.3M499.0 174.7L497.2 163.9M492.0 144.6L487.8 152.8M487.8 152.8L489.8 155.8M498.9 146.6L500.6 152.5M503.8 165.3L497.6 163.7M509.0 155.2L502.0 154.1M458.7 193.6L457.7 185.8M458.7 193.6L452.6 194.9M452.6 194.9L449.1 192.1M457.7 185.8L449.5 184.4M449.1 192.1L448.0 186.0M449.5 184.4L448.0 186.0M461.9 195.5L458.7 193.6M458.6 185.0L457.7 185.8M451.0 204.3L452.6 194.9M441.4 197.9L449.1 192.1M449.8 176.8L449.5 184.4M438.3 186.0L448.0 186.0M378.9 216.9L378.3 208.2M378.9 216.9L383.6 220.2M388.1 219.1L383.6 220.2M388.1 219.1L392.2 204.2M392.2 204.2L378.3 208.2M369.1 219.0L378.9 216.9M376.2 205.7L378.3 208.2M381.3 229.5L383.6 220.2M391.4 220.5L388.1 219.1M392.5 203.9L392.2 204.2M469.3 153.9L468.8 146.4M469.3 153.9L478.3 155.2M471.0 143.6L478.8 143.9M471.0 143.6L468.8 146.4M478.8 143.9L479.9 145.2M479.9 145.2L481.3 152.1M481.3 152.1L478.3 155.2M467.8 155.6L469.3 153.9M461.4 144.9L468.8 146.4M480.4 164.7L478.3 155.2M469.4 135.7L471.0 143.6M481.6 136.4L478.8 143.9M491.2 143.4L479.9 145.2M487.8 152.8L481.3 152.1" fill="none" stroke="#838383" stroke-width="1.15"/>
  <path d="M435.9 117.3L457.5 117.3L459.8 114.9L463.8 109.7L465.8 108.1L469.4 108.5L472.6 109.3L473.4 101.0L475.8 97.4L479.0 95.4L482.9 95.0L490.3 96.5L492.5 92.8L497.0 94.3L498.5 97.2L495.5 103.2L491.8 107.6L488.8 112.5L492.6 121.3L495.1 127.5L492.6 130.0L492.6 135.0L491.3 138.8L488.0 142.0L488.5 150.0L490.0 156.0L492.6 160.0L492.6 168.0L490.0 172.0L486.0 172.0L482.6 175.0L482.5 192.6L475.0 192.6L470.0 186.0L470.0 172.2L465.9 170.7L459.9 172.2L458.4 166.0L457.3 161.1L452.9 166.2L447.0 169.2L442.5 168.5L439.6 166.2L436.6 164.8L435.1 170.7L432.9 170.7L432.2 165.5L430.7 161.1L432.2 154.4L433.6 147.0L430.7 142.6L430.0 129.2L432.2 126.3L435.1 123.3Z" fill="#38a800"/>
<path d="M445.0 144.0L452.0 143.0L456.0 147.0L455.0 154.0L449.0 154.0L445.0 150.0Z" fill="#e1e1e1"/>
<path d="M456.0 152.0L463.0 150.0L466.3 154.0L465.0 161.0L459.0 162.6L456.0 158.0Z" fill="#e1e1e1"/>
<path d="M467.0 148.0L473.0 147.0L475.5 151.0L474.0 157.5L468.0 157.0L466.3 152.0Z" fill="#e1e1e1"/>
<path d="M463.0 160.0L470.0 158.5L474.0 162.0L473.0 170.0L466.0 171.3L462.5 166.0Z" fill="#e1e1e1"/>
<path d="M474.0 162.0L481.0 161.3L482.6 166.0L482.0 173.0L476.0 175.0L473.0 170.0Z" fill="#e1e1e1"/>
<path d="M484.0 153.0L490.0 152.5L491.3 157.0L490.0 162.6L485.0 162.0L483.8 158.0Z" fill="#e1e1e1"/>
<path d="M175.3 152.4L193.7 154.9L191.3 171.3L172.8 167.2Z" fill="#38a800"/>
<path d="M283.3 167.2L290.7 166.5L293.6 189.4L284.8 190.2Z" fill="#38a800"/>
<path d="M380.1 128.9L390.7 128.9L391.5 142.6L395.2 141.8L399.6 147.0L398.9 154.4L397.4 158.8L389.2 157.4L382.6 154.4L381.8 147.0L379.6 146.3Z" fill="#38a800"/>
<path d="M534.8 128.3L539.2 125.4L544.4 122.4L548.8 118.7L551.1 122.4L548.8 129.8L545.9 134.2L542.9 137.2L538.5 139.4L534.8 136.5L533.7 132.0Z" fill="#38a800"/>
<path d="M500.0 138.0L512.0 136.0L520.0 137.0L528.0 139.0L529.0 142.0L526.0 144.0L521.8 147.8L514.4 151.5L510.7 147.8L505.5 145.5L499.6 143.3Z" fill="#38a800"/>
<path d="M482.0 200.1L492.9 194.6L501.2 197.7L507.3 198.7L511.4 197.7L515.5 195.6L520.6 197.7L525.8 198.7L530.9 200.8L534.0 202.8L538.1 206.9L540.1 211.0L539.4 216.5L533.0 218.3L527.5 214.7L522.1 212.8L516.6 216.5L509.3 218.3L502.0 220.1L492.9 221.9L488.3 218.3L485.6 211.0Z" fill="#38a800"/>
<path d="M521.0 200.0L527.0 199.5L529.0 203.0L528.0 208.5L523.0 209.0L520.6 205.0Z" fill="#e1e1e1"/>
<path d="M525.7 203.7L533.0 205.5L538.5 211.0L539.4 216.5L533.0 218.3L527.5 214.7L523.9 209.2Z" fill="#38a800"/>
<path d="M444.6 190.9L450.9 187.3L455.5 194.6L457.3 200.1L450.9 201.9L445.5 198.2Z" fill="#38a800"/>
<path d="M454.6 189.1L463.7 187.3L469.2 190.9L467.4 198.2L461.9 200.1L456.4 196.4Z" fill="#38a800"/>
<path d="M461.9 180.0L476.5 180.0L478.3 185.5L472.8 190.9L465.5 187.3Z" fill="#38a800"/>
<path d="M459.9 172.2L465.9 170.7L470.0 172.2L470.0 184.0L462.9 182.6L460.7 178.1Z" fill="#38a800"/>
<path d="M457.0 188.5L464.4 187.0L470.0 189.2L470.0 198.8L462.9 200.3L458.4 197.4Z" fill="#38a800"/>
<path d="M458.2 212.8L465.5 211.0L470.1 216.5L469.2 223.8L463.7 227.4L458.2 225.6L457.3 219.2Z" fill="#38a800"/>
<path d="M480.1 221.9L487.4 218.3L492.9 221.9L491.1 227.4L485.6 229.2L481.0 227.4Z" fill="#38a800"/>
<path d="M500.2 221.9L505.7 220.1L509.3 225.6L511.1 232.9L507.5 236.5L502.9 232.9Z" fill="#38a800"/>
<path d="M522.1 231.1L531.2 227.4L533.9 232.9L532.1 242.0L526.6 244.7L523.0 240.2Z" fill="#38a800"/>
<path d="M436.2 223.5L444.6 224.0L448.1 229.0L448.9 233.0L446.5 240.2L441.0 241.7L436.2 242.5Z" fill="#38a800"/>
<path d="M432.2 218.6L438.4 215.5L444.6 215.5L445.4 223.2L436.8 223.2L433.0 221.7Z" fill="#38a800"/>
<path d="M446.4 251.7L460.1 244.9L468.1 241.0L474.0 237.4L476.4 240.7L477.8 248.9L490.1 251.0L488.8 258.5L488.8 263.3L492.9 267.4L499.7 270.8L502.4 272.9L501.1 276.3L497.0 279.0L492.9 276.3L484.6 274.9L479.2 270.8L472.3 267.4L460.0 266.7L446.4 268.1Z" fill="#38a800"/>
<path d="M493.6 250.9L504.6 248.2L511.9 248.2L513.7 254.6L508.2 260.0L502.8 260.0L497.3 258.2L493.6 254.6Z" fill="#38a800"/>
<path d="M451.9 268.2L458.2 267.3L459.2 291.0L451.9 291.0Z" fill="#38a800"/>
<path d="M473.2 307.1L481.2 295.2L487.5 293.6L494.7 293.8L498.7 296.0L499.5 300.7L504.3 299.9L508.3 299.1L509.9 307.1L510.7 318.3L511.5 321.5L509.9 327.8L508.3 335.8L503.5 341.4L497.9 340.6L495.5 345.4L493.9 343.0L487.5 341.4L483.6 341.4L482.8 332.6L482.0 321.5L481.2 311.9L476.4 310.3Z" fill="#38a800"/>
<path d="M500.9 260.0L508.2 260.0L513.7 255.5L521.0 259.1L526.4 263.7L527.3 271.0L529.2 281.9L515.5 286.5L513.7 276.4L510.0 270.0L502.8 266.4L497.3 265.5Z" fill="#38a800"/>
<path d="M538.3 263.7L536.5 260.0L542.8 252.8L549.2 256.4L553.8 259.1L560.1 258.2L564.7 261.9L566.6 268.3L566.6 279.1L566.5 285.5L565.0 290.0L564.7 303.8L562.9 312.9L557.4 312.9L555.6 303.8L554.7 294.7L551.9 287.4L544.7 285.5L541.0 283.7L539.2 276.4L542.8 269.1Z" fill="#38a800"/>
<path d="M578.3 298.2L583.8 297.3L588.3 300.1L592.9 298.2L602.0 299.2L604.7 300.1L603.8 314.7L600.2 317.4L594.7 316.5L591.1 319.2L585.6 321.9L580.1 322.8L578.3 316.5L579.2 307.4Z" fill="#38a800"/>
<path d="M255.9 179.8L270.0 178.3L270.7 182.8L277.4 187.2L274.4 192.4L271.4 194.6L268.5 199.0L267.0 205.0L263.3 205.0L261.1 199.0L256.6 193.1Z" fill="#38a800"/>
<path d="M271.4 212.4L274.4 208.7L281.8 207.9L286.2 207.2L287.7 216.8L292.2 218.3L292.0 231.0L283.5 231.7L278.8 234.8L275.7 232.5L272.6 230.2L268.0 230.2L261.8 228.6L261.8 217.0L263.3 216.8L270.0 216.8Z" fill="#38a800"/>
<path d="M285.8 207.7L302.1 205.4L303.6 217.8L292.8 219.4L286.6 217.0Z" fill="#38a800"/>
<path d="M249.4 210.8L261.8 212.4L262.6 217.0L261.0 229.4L258.7 232.5L240.1 225.5L243.2 221.7L247.1 217.0Z" fill="#38a800"/>
<path d="M366.2 196.6L375.1 195.9L378.1 200.3L378.0 206.2L374.1 212.4L367.9 212.4Z" fill="#38a800"/>
<path d="M354.0 214.7L371.0 213.9L372.6 230.2L361.0 234.1L354.8 228.6L353.2 223.2Z" fill="#38a800"/>
<path d="M353.2 229.4L359.4 230.2L360.2 243.4L346.3 243.4L350.1 237.2Z" fill="#38a800"/>
<path d="M374.9 209.3L384.2 206.2L387.3 210.8L385.0 215.5L381.1 218.6L378.0 217.8L374.9 213.9Z" fill="#38a800"/>
<path d="M396.6 203.1L407.4 202.3L409.7 212.4L408.2 217.0L402.8 217.0L398.1 212.4Z" fill="#38a800"/>
<path d="M393.3 190.0L402.2 187.0L404.4 191.4L405.9 198.8L397.8 203.3L394.8 201.1Z" fill="#38a800"/>
<path d="M406.6 195.9L414.0 192.9L420.0 192.9L422.2 198.8L420.0 200.3L417.0 198.8L412.6 201.8L409.6 204.8L406.6 201.8Z" fill="#38a800"/>
<path d="M417.0 200.3L425.9 198.8L430.3 195.9L439.2 200.3L442.2 206.2L444.6 215.5L438.4 215.5L432.2 220.1L430.6 218.6L426.8 213.9L421.4 214.7L418.3 212.4L415.9 206.2Z" fill="#38a800"/>
<path d="M327.7 128.8L336.9 127.4L337.5 132.9L335.9 137.0L332.8 142.2L328.7 148.3L325.2 150.8L321.9 146.3L322.5 139.1L325.6 135.0Z" fill="#ffff00"/>
<path d="M463.8 109.7L465.8 108.1L469.4 108.5L472.6 109.3L473.4 101.0L475.8 97.4L476.3 101.7L480.0 106.1L482.9 110.6L480.0 112.8L480.0 114.0L473.4 114.1L472.6 118.0L466.2 120.5L464.2 113.3Z" fill="#ffff00"/>
<path d="M511.8 128.3L515.8 125.1L520.0 126.5L522.3 128.8L524.5 132.5L526.2 136.4L521.0 136.0L515.5 134.0L512.0 131.5Z" fill="#ffff00"/>
<path d="M494.2 142.6L499.0 142.0L505.5 144.5L511.0 146.5L516.0 148.5L517.4 151.3L516.4 155.2L513.5 158.0L510.0 156.5L508.5 154.4L504.0 153.7L500.3 152.2L497.4 149.2L494.2 146.3Z" fill="#ffff00"/>
<path d="M509.5 157.5L514.5 157.2L516.0 158.5L513.5 161.0L510.0 162.0Z" fill="#ffff00"/>
<path d="M492.2 155.9L499.6 154.4L500.3 161.8L501.8 165.5L499.6 167.0L495.9 165.5L492.9 162.6Z" fill="#ffff00"/>
<path d="M482.5 171.9L488.8 173.8L488.8 177.5L485.0 178.8L481.9 176.3Z" fill="#ffff00"/>
<path d="M495.0 176.0L498.5 175.7L499.2 181.0L496.5 181.8Z" fill="#ffff00"/>
<path d="M475.9 180.3L481.1 181.1L480.4 184.8L476.7 185.5Z" fill="#ffff00"/>
<path d="M480.1 183.6L487.4 181.8L492.9 183.6L494.7 187.3L492.9 192.8L487.4 198.2L481.9 203.7L480.1 209.2L476.5 211.0L472.8 216.5L467.4 213.7L465.5 207.4L467.4 200.1L472.8 197.3L476.5 194.6L478.3 189.1Z" fill="#ffff00"/>
<path d="M478.3 209.2L482.9 212.8L488.3 218.3L483.8 221.9L476.5 221.9L474.7 218.3Z" fill="#ffff00"/>
<path d="M460.1 231.4L464.1 229.8L466.5 229.8L469.7 233.0L472.8 235.4L474.0 237.4L468.1 241.0L460.9 244.9L459.7 241.0Z" fill="#ffff00"/>
<path d="M477.4 236.5L488.3 232.9L489.2 242.0L491.1 249.3L484.7 250.2L479.2 247.5L477.4 242.0Z" fill="#ffff00"/>
<path d="M513.0 232.9L520.2 232.0L521.1 238.4L522.1 243.8L516.6 244.7L513.9 240.2Z" fill="#ffff00"/>
<path d="M460.0 291.3L472.3 290.0L473.7 284.5L477.1 285.2L478.5 290.0L477.8 298.0L473.3 299.8L471.4 302.7L467.5 297.8L462.8 296.0Z" fill="#ffff00"/>
<path d="M505.1 300.7L507.5 298.3L509.1 299.1L510.7 308.7L511.8 316.7L513.1 322.3L512.3 323.9L509.9 321.5L506.7 316.7L504.3 308.7Z" fill="#ffff00"/>
<path d="M497.0 268.1L505.2 267.4L513.4 273.5L514.6 281.9L514.6 286.5L505.2 287.9L497.6 290.0L495.6 283.1Z" fill="#ffff00"/>
<path d="M274.4 192.4L277.4 191.6L283.3 190.9L280.3 194.6L281.8 200.5L281.1 207.9L274.4 207.9L271.4 212.4L270.0 216.8L263.3 216.1L263.3 209.4L267.0 205.0L270.0 197.6L271.4 194.6Z" fill="#ffff00"/>
<path d="M261.0 229.4L268.0 230.2L272.6 230.2L276.5 232.5L274.2 237.2L272.6 241.8L266.5 241.5L259.5 240.3L260.3 234.0Z" fill="#ffff00"/>
<path d="M304.4 213.9L306.7 210.8L312.9 207.7L320.6 205.4L325.3 203.9L322.2 212.4L320.6 221.7L312.9 220.1L305.2 219.4Z" fill="#ffff00"/>
<path d="M354.4 190.7L363.3 190.7L365.6 200.0L367.2 212.4L357.1 213.2L355.9 203.3Z" fill="#ffff00"/>
<path d="M380.0 191.4L389.6 185.5L391.1 190.0L394.1 197.4L394.8 205.5L388.9 208.5L384.4 208.5L380.0 206.2L377.3 203.3L377.3 192.9Z" fill="#ffff00"/>
<path d="M421.4 214.7L426.8 213.9L432.2 220.1L431.4 225.5L429.1 226.3L424.5 223.2L421.4 220.1Z" fill="#ffff00"/>
<path d="M429.9 225.5L436.8 224.8L435.3 244.9L430.6 245.7L429.9 235.6Z" fill="#ffff00"/>
<path d="M399.2 168.5L406.6 167.8L407.4 172.2L405.2 175.2L399.2 174.4Z" fill="#ffff00"/>
<path d="M416.3 172.2L422.9 172.2L431.8 175.9L432.5 181.1L430.3 185.5L422.9 185.5L416.3 189.2L413.3 184.0L416.3 179.6Z" fill="#ffff00"/>
<path d="M473.4 114.1L480.0 114.1L480.0 120.5L473.4 120.5Z" fill="#ff0000"/>
<path d="M499.6 153.7L506.3 155.9L509.2 158.1L509.2 161.1L506.3 163.3L503.3 164.0L500.3 161.8L498.9 157.4Z" fill="#ff0000"/>
<path d="M489.0 176.0L495.0 176.0L495.5 184.0L492.0 186.0L489.0 183.0Z" fill="#38a800"/>
<path d="M489.6 170.5L492.0 169.5L495.4 168.5L498.0 167.8L501.2 169.0L501.2 173.0L498.0 174.0L495.7 175.7L492.0 175.7L489.6 174.0Z" fill="#ff0000"/>
<path d="M500.5 175.3L503.5 175.5L503.9 179.0L500.8 178.8Z" fill="#a83a3a"/>
<path d="M489.2 229.2L494.7 226.5L500.2 227.4L502.9 232.9L501.1 238.4L496.5 240.2L491.1 238.4Z" fill="#ff0000"/>
<path d="M383.4 221.7L385.7 218.6L391.9 215.5L397.4 213.9L402.0 217.0L402.8 226.3L401.2 229.4L398.1 231.0L393.5 232.5L391.9 231.7L387.3 227.9L383.4 224.8Z" fill="#ff0000"/>
<path d="M431.8 183.3L439.2 184.0L445.1 186.3L445.9 190.7L443.6 194.4L443.6 199.6L439.2 198.8L433.3 194.4L430.3 192.9Z" fill="#ff0000"/>
  <path d="M181.3 168.8L174.8 157.0M602.5 299.7L604.1 304.3M595.0 298.7L595.0 316.2M584.5 301.4L582.9 308.8M584.5 301.4L587.1 299.7M582.9 308.8L585.9 319.7M191.6 154.9L192.8 155.8M193.3 155.8L192.8 155.8M184.2 169.4L192.8 155.8M582.9 308.8L579.3 309.6M548.9 128.5L542.2 130.1M537.8 126.7L537.8 127.0M542.2 130.1L537.8 127.0M542.2 130.1L541.8 137.4M537.8 127.0L537.1 127.2M584.5 301.4L578.8 300.1M492.2 94.4L492.2 94.0M492.2 94.4L491.7 94.7M495.5 94.1L492.2 94.4M493.9 104.6L491.2 103.8M491.2 103.8L491.7 94.7M480.4 103.9L487.0 106.8M491.2 103.8L487.0 106.8M480.4 103.9L480.2 95.6M480.4 103.9L479.4 104.9M563.8 306.6L557.2 310.1M522.9 138.0L523.7 144.4M515.0 136.7L513.3 137.1M523.7 144.4L521.5 147.6M521.0 147.8L512.8 143.5M513.3 137.1L512.8 143.5M525.2 144.3L523.7 144.4M262.6 179.4L263.5 180.0M264.3 179.2L263.5 180.0M261.3 187.9L263.5 180.0M256.7 189.1L261.3 187.9M251.7 227.0L255.2 230.9M251.7 227.0L249.3 228.6M564.3 304.1L556.0 294.4M556.0 294.4L555.0 294.8M565.3 284.5L558.2 288.2M556.0 294.4L558.2 288.2M558.2 288.2L553.6 283.9M553.6 283.9L544.3 285.0M538.2 207.9L530.7 209.2M530.7 209.2L526.5 214.0M515.7 285.7L517.8 285.4M523.0 283.7L520.1 274.0M513.8 274.2L520.1 274.0M528.6 280.0L527.2 282.3M527.3 273.0L520.6 273.6M520.1 274.0L520.6 273.6M530.7 209.2L528.6 206.7M525.2 199.3L525.3 198.9M361.1 233.7L361.0 233.7M359.3 233.1L356.3 232.1M356.3 232.1L354.2 234.1M354.2 234.1L354.1 242.9M288.7 231.0L291.7 228.9M265.4 229.2L268.1 217.9M268.1 217.9L270.0 217.1M270.2 217.0L274.6 215.1M274.6 215.1L281.7 231.1M281.7 231.1L277.3 233.3M283.3 231.5L281.7 231.1M447.1 253.3L446.7 253.4M447.1 253.3L447.2 251.6M513.3 137.1L512.5 136.4M487.0 106.8L488.8 112.0M480.3 116.7L482.7 117.8M488.9 113.5L482.7 117.8M511.3 144.8L512.8 143.5M511.3 144.8L505.0 144.0M501.6 142.7L502.1 138.0M449.8 117.6L447.3 124.8M440.4 117.6L440.5 121.7M440.5 121.7L447.1 124.9M447.3 124.8L447.1 124.9M460.1 116.5L459.2 115.9M460.1 116.5L461.4 124.6M458.7 126.7L461.4 124.6M458.7 126.7L447.3 124.8M464.1 114.2L460.1 116.5M434.1 124.7L438.2 135.6M430.7 136.3L437.5 136.5M437.5 136.5L438.2 135.6M440.5 121.7L435.4 123.4M444.9 133.4L447.1 124.9M444.9 133.4L438.2 135.6M558.8 269.7L556.2 259.1M558.8 269.7L566.2 273.5M550.9 274.5L553.6 283.9M550.9 274.5L558.8 269.7M491.0 323.1L482.5 323.6M491.0 323.1L490.7 315.9M488.8 313.8L490.7 315.9M488.8 313.8L481.7 314.3M485.8 336.0L491.1 323.2M485.8 336.0L499.1 334.7M499.1 334.7L496.3 325.3M491.1 323.2L496.3 325.3M491.0 323.1L491.1 323.2M483.6 338.2L485.8 336.0M504.8 339.4L499.1 334.7M539.7 277.0L539.6 276.2M550.9 274.5L541.6 272.3M549.8 257.1L543.0 260.4M543.0 260.4L541.6 267.1M444.9 133.4L451.1 138.1M458.7 126.7L457.3 134.7M457.3 134.7L451.1 138.1M433.9 151.0L437.6 155.4M433.9 151.0L438.1 144.6M437.6 155.4L447.6 154.1M438.1 144.6L444.7 145.8M447.7 153.1L447.6 154.1M437.5 136.5L438.1 144.6M433.2 150.9L433.9 151.0M451.1 138.1L451.2 142.8M438.0 241.9L438.0 233.2M447.2 237.0L438.0 233.2M438.0 233.2L436.6 231.5M496.0 205.8L490.4 196.2M496.0 205.8L490.5 208.0M490.5 208.0L483.5 203.8M501.6 205.2L501.8 198.1M500.0 206.3L501.6 205.2M500.0 206.3L496.0 205.8M448.5 233.3L448.4 231.8M436.9 226.9L437.7 226.4M444.2 224.3L437.7 226.4M432.5 165.5L434.7 167.9M437.6 155.4L437.6 164.2M437.6 164.2L437.2 164.7M435.9 166.3L434.7 167.9M432.9 168.5L434.5 168.2M434.5 168.2L435.1 169.5M434.7 167.9L434.5 168.2M500.9 258.2L502.1 256.6M498.6 250.0L502.1 256.6M487.8 254.4L487.8 250.9M487.8 254.4L489.1 254.8M496.4 256.9L500.9 258.2M487.2 255.2L481.0 257.8M481.0 257.8L475.4 255.0M475.4 255.0L477.3 247.7M487.8 254.4L487.2 255.2M502.1 256.6L508.1 254.0M508.2 248.5L508.1 254.0M510.8 267.9L512.2 265.7M512.2 265.7L510.2 258.8M509.9 257.9L508.9 254.4M500.9 258.2L500.8 259.0M500.5 261.2L500.1 264.5M500.1 264.5L510.8 267.9M508.1 254.0L508.9 254.4M458.6 283.6L452.4 284.9M488.3 275.2L488.2 275.0M488.2 275.0L496.0 275.6M511.6 271.8L510.8 267.9M500.1 264.5L499.6 265.1M499.6 265.1L499.6 265.6M522.7 234.3L523.0 231.1M509.6 227.9L501.9 226.1M512.0 216.1L511.9 217.3M512.0 216.1L503.7 217.4M503.7 217.4L503.3 219.5M502.9 221.3L501.9 226.1M533.3 234.5L529.3 237.1M529.3 237.1L531.1 242.2M522.8 235.3L523.1 236.0M523.1 236.0L529.3 237.1M399.0 146.7L391.1 147.1M392.3 157.6L390.1 148.9M390.1 148.9L391.1 147.1M382.5 151.0L390.1 148.9M390.7 134.7L388.4 137.2M380.7 129.2L381.5 135.0M381.5 135.0L388.4 137.2M391.1 147.1L388.4 137.2M380.2 135.5L381.5 135.0M257.7 212.2L257.9 214.6M257.9 214.6L250.0 220.1M246.1 218.6L250.0 220.1M274.6 215.1L275.0 214.6M275.2 208.9L275.0 214.6M267.1 200.4L262.9 203.0M267.1 200.4L267.7 200.8M268.1 217.9L265.7 217.1M262.1 215.9L257.9 214.6M265.0 191.2L261.3 187.9M265.0 191.2L267.1 200.4M251.7 227.0L250.0 220.1M290.3 186.2L285.4 189.8M290.3 186.2L288.0 178.1M284.2 176.9L288.0 178.1M276.4 186.9L276.3 188.6M291.5 175.0L288.0 178.1M265.0 191.2L275.8 189.4M354.2 234.1L351.8 233.8M493.0 125.9L493.1 123.4M493.0 125.9L494.1 125.9M482.7 117.8L484.6 125.3M491.4 126.9L484.6 125.3M491.4 126.9L493.0 125.9M491.4 126.9L491.4 135.8M492.0 135.8L491.4 135.8M478.5 129.9L472.3 121.8M478.5 129.9L478.2 130.9M478.2 130.9L469.9 134.6M469.9 134.6L464.3 125.5M464.3 125.5L472.3 121.8M484.6 125.3L478.5 129.9M473.1 119.3L472.3 121.8M461.4 124.6L464.3 125.5M469.4 135.7L469.9 134.6M469.4 135.7L461.1 137.1M457.3 134.7L461.1 137.1M508.0 335.7L508.1 327.0M496.3 325.3L503.6 323.1M508.1 327.0L503.6 323.1M488.8 305.1L492.0 303.3M488.8 305.1L488.8 313.8M490.7 315.9L501.7 312.4M492.0 303.3L501.2 305.7M501.7 312.4L501.2 305.7M503.6 323.1L504.9 314.8M501.7 312.4L504.9 314.8M493.0 294.1L494.6 295.4M494.6 295.4L496.3 295.0M494.6 295.4L492.0 303.3M501.2 305.7L503.4 303.0M502.5 300.5L503.4 303.0M403.4 208.6L404.5 208.0M403.4 208.6L402.2 216.0M404.5 208.0L408.5 208.4M370.5 230.6L367.3 222.1M356.3 232.1L356.4 229.9M356.4 229.7L356.8 223.8M367.3 222.1L356.8 223.8M356.8 223.8L353.7 220.8M512.4 215.7L515.9 216.4M512.4 215.7L511.7 206.6M520.1 206.7L523.2 212.9M520.1 206.7L512.3 206.0M512.3 206.0L511.7 206.6M512.0 216.1L512.4 215.7M500.0 213.8L503.7 217.4M501.6 205.2L511.7 206.6M500.0 206.3L500.0 213.8M520.8 206.0L520.1 206.7M514.2 196.6L512.3 206.0M469.0 215.6L468.5 215.6M468.3 214.8L468.2 215.2M468.5 215.6L468.2 215.2M469.0 222.9L468.5 215.6M480.9 224.9L482.0 224.1M481.7 222.2L482.0 224.1M490.5 208.0L489.1 214.0M487.2 214.5L489.1 214.0M500.0 213.8L493.1 218.0M489.1 214.0L493.1 218.0M437.7 226.4L437.8 223.9M437.9 222.9L438.8 211.6M429.4 216.5L429.8 215.0M438.8 211.6L429.8 215.0M417.6 209.8L425.3 208.3M429.8 215.0L425.3 208.3M425.3 208.3L428.3 202.6M428.3 202.6L439.1 205.8M438.8 211.6L438.9 211.5M439.1 205.8L438.9 211.5M438.9 211.5L444.0 214.2M449.0 155.4L447.6 154.1M449.0 155.4L449.7 163.4M437.6 164.2L448.0 164.7M449.7 163.4L448.0 164.7M461.9 199.7L461.9 195.5M461.9 195.5L466.8 192.9M469.7 194.4L466.8 192.9M448.0 164.7L447.8 168.5M454.0 164.5L449.7 163.4M454.4 257.2L458.0 265.5M454.4 257.2L458.0 252.2M458.0 252.2L467.9 255.7M458.0 265.5L467.8 263.2M467.8 263.2L468.8 257.0M468.8 257.0L467.9 255.7M450.8 257.0L454.4 257.2M447.1 253.3L450.8 257.0M455.4 247.6L457.3 248.0M457.3 248.0L458.0 252.2M468.4 263.9L479.3 265.0M481.0 257.8L479.3 265.0M475.4 255.0L468.8 257.0M468.4 263.9L467.8 263.2M464.3 243.4L469.0 244.4M470.2 240.0L470.5 243.6M470.5 243.6L469.0 244.4M462.5 226.7L465.3 226.0M457.3 248.0L458.6 246.0M467.9 255.7L469.0 244.4M476.7 244.1L470.5 243.6M523.1 236.0L522.9 236.4M457.4 266.4L454.0 267.0M457.4 266.4L457.5 266.7M457.6 267.7L458.0 270.8M458.3 276.5L452.4 276.5M450.8 257.0L446.7 261.4M458.0 265.5L457.4 266.4M468.4 263.9L468.9 266.9M480.2 271.2L479.6 265.5M484.6 274.5L487.9 274.6M479.6 265.5L489.5 264.8M487.9 274.6L490.9 266.4M489.5 264.8L490.9 266.4M479.3 265.0L479.6 265.5M488.2 275.0L487.9 274.6M487.2 255.2L488.5 260.5M489.4 264.3L489.5 264.8M499.6 265.1L498.1 265.3M491.4 266.3L490.9 266.4M480.2 297.2L482.2 299.6M475.3 304.5L477.5 305.2M477.5 305.2L482.5 301.2M482.5 301.2L482.2 299.6M487.8 293.9L482.2 299.6M477.1 310.2L477.5 305.2M488.8 305.1L482.5 301.2M488.6 227.9L488.2 226.1M488.2 226.1L492.1 223.3M501.9 226.1L501.6 226.3M493.1 218.0L492.9 221.5M482.0 224.1L488.2 226.1M492.4 183.1L490.1 176.3M481.0 180.8L481.0 180.2M481.0 180.2L482.3 179.4M275.0 214.6L292.2 215.9M291.4 207.2L292.2 215.9M303.1 216.4L300.7 217.9M295.2 218.7L292.2 215.9M366.5 196.9L366.7 196.9M413.2 194.3L413.2 193.6M413.2 194.3L406.9 196.1M406.9 196.1L406.9 196.1M404.8 194.7L396.4 189.3M404.5 208.0L405.6 202.7M406.9 196.3L406.9 196.1M416.7 196.8L416.4 198.9M416.7 196.8L413.2 194.3M397.4 206.0L403.4 208.6M511.3 144.8L510.9 146.2M504.9 314.8L505.8 314.6M508.1 327.0L510.1 325.9M503.4 303.0L504.6 302.9M427.6 199.7L426.5 198.7M427.6 199.7L431.6 196.9M428.3 202.6L427.6 199.7M416.7 196.8L420.9 196.1M491.4 135.8L490.3 137.4M478.2 130.9L481.6 136.4M481.6 136.4L490.3 137.4M490.3 137.4L490.6 139.1M439.1 205.8L440.7 204.0M460.7 212.5L461.8 214.9M457.9 217.2L461.8 214.9M468.2 215.2L461.8 214.9M488.1 171.7L486.9 165.9M486.9 165.9L482.6 165.1M481.0 180.2L476.3 175.2M468.8 184.9L467.4 177.2M468.8 184.9L467.8 186.1M467.8 186.1L465.1 185.8M460.8 176.6L464.7 175.6M464.7 175.6L467.4 177.2M475.2 174.2L467.4 177.2M479.0 185.9L477.2 185.7M476.4 185.6L468.8 184.9M466.8 192.9L467.8 186.1M464.8 170.1L464.7 175.6M458.5 165.0L462.4 166.4M519.6 258.7L520.0 262.6M526.1 264.1L521.4 263.9M520.0 262.6L521.4 263.9M508.9 254.4L513.3 254.6M512.2 265.7L520.0 262.6M543.0 260.4L539.0 257.6M520.6 273.6L521.4 263.9M290.3 186.2L293.1 187.8M367.3 222.1L369.1 219.0M369.1 219.0L366.8 214.4M366.7 198.7L368.9 205.4M377.0 203.2L376.2 205.7M376.2 205.7L368.9 205.4M367.6 206.9L368.9 205.4M457.9 162.5L458.1 161.8M468.2 158.6L468.0 157.3M467.2 155.6L466.3 155.7M454.3 144.9L457.6 146.8M461.1 137.1L461.4 144.9M461.4 144.9L457.6 146.8M449.0 155.4L453.7 154.3M455.3 153.9L455.7 153.8M457.6 146.8L457.6 151.2M490.0 163.3L490.0 162.9M490.0 163.3L492.3 163.5M486.9 165.9L490.0 163.3M488.5 151.3L488.0 152.4M458.7 193.6L458.0 188.6M458.7 193.6L456.1 194.1M455.0 194.4L452.6 194.9M452.6 194.9L449.1 192.1M449.1 192.1L448.5 189.0M461.9 195.5L458.7 193.6M451.5 201.4L452.6 194.9M445.4 194.9L449.1 192.1M378.9 216.9L378.3 208.5M378.9 216.9L380.8 218.2M369.1 219.0L371.2 218.6M377.8 217.1L378.9 216.9M376.2 205.7L377.2 206.9M468.9 147.4L468.8 146.4M475.0 154.7L478.3 155.2M471.0 143.6L478.8 143.9M471.0 143.6L468.8 146.4M478.8 143.9L479.9 145.2M479.9 145.2L481.3 152.1M481.3 152.1L478.3 155.2M461.4 144.9L468.8 146.4M479.7 161.1L478.3 155.2M469.4 135.7L471.0 143.6M481.6 136.4L478.8 143.9M487.8 144.0L479.9 145.2M485.6 152.6L481.3 152.1" fill="none" stroke="#c4c4c4" stroke-width="0.7"/>
  <path d="M435.9 117.3L457.5 117.3L459.8 114.9L463.8 109.7L465.8 108.1L469.4 108.5L472.6 109.3L473.4 101.0L475.8 97.4L479.0 95.4L482.9 95.0L490.3 96.5L492.5 92.8L497.0 94.3L498.5 97.2L495.5 103.2L491.8 107.6L488.8 112.5L492.6 121.3L495.1 127.5L492.6 130.0L492.6 135.0L491.3 138.8L488.0 142.0L488.5 150.0L490.0 156.0L492.6 160.0L492.6 168.0L490.0 172.0L486.0 172.0L482.6 175.0L482.5 192.6L475.0 192.6L470.0 186.0L470.0 172.2L465.9 170.7L459.9 172.2L458.4 166.0L457.3 161.1L452.9 166.2L447.0 169.2L442.5 168.5L439.6 166.2L436.6 164.8L435.1 170.7L432.9 170.7L432.2 165.5L430.7 161.1L432.2 154.4L433.6 147.0L430.7 142.6L430.0 129.2L432.2 126.3L435.1 123.3ZM175.3 152.4L193.7 154.9L191.3 171.3L172.8 167.2ZM283.3 167.2L290.7 166.5L293.6 189.4L284.8 190.2ZM380.1 128.9L390.7 128.9L391.5 142.6L395.2 141.8L399.6 147.0L398.9 154.4L397.4 158.8L389.2 157.4L382.6 154.4L381.8 147.0L379.6 146.3ZM534.8 128.3L539.2 125.4L544.4 122.4L548.8 118.7L551.1 122.4L548.8 129.8L545.9 134.2L542.9 137.2L538.5 139.4L534.8 136.5L533.7 132.0ZM500.0 138.0L512.0 136.0L520.0 137.0L528.0 139.0L529.0 142.0L526.0 144.0L521.8 147.8L514.4 151.5L510.7 147.8L505.5 145.5L499.6 143.3ZM482.0 200.1L492.9 194.6L501.2 197.7L507.3 198.7L511.4 197.7L515.5 195.6L520.6 197.7L525.8 198.7L530.9 200.8L534.0 202.8L538.1 206.9L540.1 211.0L539.4 216.5L533.0 218.3L527.5 214.7L522.1 212.8L516.6 216.5L509.3 218.3L502.0 220.1L492.9 221.9L488.3 218.3L485.6 211.0ZM525.7 203.7L533.0 205.5L538.5 211.0L539.4 216.5L533.0 218.3L527.5 214.7L523.9 209.2ZM444.6 190.9L450.9 187.3L455.5 194.6L457.3 200.1L450.9 201.9L445.5 198.2ZM454.6 189.1L463.7 187.3L469.2 190.9L467.4 198.2L461.9 200.1L456.4 196.4ZM461.9 180.0L476.5 180.0L478.3 185.5L472.8 190.9L465.5 187.3ZM459.9 172.2L465.9 170.7L470.0 172.2L470.0 184.0L462.9 182.6L460.7 178.1ZM457.0 188.5L464.4 187.0L470.0 189.2L470.0 198.8L462.9 200.3L458.4 197.4ZM458.2 212.8L465.5 211.0L470.1 216.5L469.2 223.8L463.7 227.4L458.2 225.6L457.3 219.2ZM480.1 221.9L487.4 218.3L492.9 221.9L491.1 227.4L485.6 229.2L481.0 227.4ZM500.2 221.9L505.7 220.1L509.3 225.6L511.1 232.9L507.5 236.5L502.9 232.9ZM522.1 231.1L531.2 227.4L533.9 232.9L532.1 242.0L526.6 244.7L523.0 240.2ZM436.2 223.5L444.6 224.0L448.1 229.0L448.9 233.0L446.5 240.2L441.0 241.7L436.2 242.5ZM432.2 218.6L438.4 215.5L444.6 215.5L445.4 223.2L436.8 223.2L433.0 221.7ZM446.4 251.7L460.1 244.9L468.1 241.0L474.0 237.4L476.4 240.7L477.8 248.9L490.1 251.0L488.8 258.5L488.8 263.3L492.9 267.4L499.7 270.8L502.4 272.9L501.1 276.3L497.0 279.0L492.9 276.3L484.6 274.9L479.2 270.8L472.3 267.4L460.0 266.7L446.4 268.1ZM493.6 250.9L504.6 248.2L511.9 248.2L513.7 254.6L508.2 260.0L502.8 260.0L497.3 258.2L493.6 254.6ZM451.9 268.2L458.2 267.3L459.2 291.0L451.9 291.0ZM473.2 307.1L481.2 295.2L487.5 293.6L494.7 293.8L498.7 296.0L499.5 300.7L504.3 299.9L508.3 299.1L509.9 307.1L510.7 318.3L511.5 321.5L509.9 327.8L508.3 335.8L503.5 341.4L497.9 340.6L495.5 345.4L493.9 343.0L487.5 341.4L483.6 341.4L482.8 332.6L482.0 321.5L481.2 311.9L476.4 310.3ZM500.9 260.0L508.2 260.0L513.7 255.5L521.0 259.1L526.4 263.7L527.3 271.0L529.2 281.9L515.5 286.5L513.7 276.4L510.0 270.0L502.8 266.4L497.3 265.5ZM538.3 263.7L536.5 260.0L542.8 252.8L549.2 256.4L553.8 259.1L560.1 258.2L564.7 261.9L566.6 268.3L566.6 279.1L566.5 285.5L565.0 290.0L564.7 303.8L562.9 312.9L557.4 312.9L555.6 303.8L554.7 294.7L551.9 287.4L544.7 285.5L541.0 283.7L539.2 276.4L542.8 269.1ZM578.3 298.2L583.8 297.3L588.3 300.1L592.9 298.2L602.0 299.2L604.7 300.1L603.8 314.7L600.2 317.4L594.7 316.5L591.1 319.2L585.6 321.9L580.1 322.8L578.3 316.5L579.2 307.4ZM255.9 179.8L270.0 178.3L270.7 182.8L277.4 187.2L274.4 192.4L271.4 194.6L268.5 199.0L267.0 205.0L263.3 205.0L261.1 199.0L256.6 193.1ZM271.4 212.4L274.4 208.7L281.8 207.9L286.2 207.2L287.7 216.8L292.2 218.3L292.0 231.0L283.5 231.7L278.8 234.8L275.7 232.5L272.6 230.2L268.0 230.2L261.8 228.6L261.8 217.0L263.3 216.8L270.0 216.8ZM285.8 207.7L302.1 205.4L303.6 217.8L292.8 219.4L286.6 217.0ZM249.4 210.8L261.8 212.4L262.6 217.0L261.0 229.4L258.7 232.5L240.1 225.5L243.2 221.7L247.1 217.0ZM366.2 196.6L375.1 195.9L378.1 200.3L378.0 206.2L374.1 212.4L367.9 212.4ZM354.0 214.7L371.0 213.9L372.6 230.2L361.0 234.1L354.8 228.6L353.2 223.2ZM353.2 229.4L359.4 230.2L360.2 243.4L346.3 243.4L350.1 237.2ZM374.9 209.3L384.2 206.2L387.3 210.8L385.0 215.5L381.1 218.6L378.0 217.8L374.9 213.9ZM396.6 203.1L407.4 202.3L409.7 212.4L408.2 217.0L402.8 217.0L398.1 212.4ZM393.3 190.0L402.2 187.0L404.4 191.4L405.9 198.8L397.8 203.3L394.8 201.1ZM406.6 195.9L414.0 192.9L420.0 192.9L422.2 198.8L420.0 200.3L417.0 198.8L412.6 201.8L409.6 204.8L406.6 201.8ZM417.0 200.3L425.9 198.8L430.3 195.9L439.2 200.3L442.2 206.2L444.6 215.5L438.4 215.5L432.2 220.1L430.6 218.6L426.8 213.9L421.4 214.7L418.3 212.4L415.9 206.2ZM327.7 128.8L336.9 127.4L337.5 132.9L335.9 137.0L332.8 142.2L328.7 148.3L325.2 150.8L321.9 146.3L322.5 139.1L325.6 135.0ZM463.8 109.7L465.8 108.1L469.4 108.5L472.6 109.3L473.4 101.0L475.8 97.4L476.3 101.7L480.0 106.1L482.9 110.6L480.0 112.8L480.0 114.0L473.4 114.1L472.6 118.0L466.2 120.5L464.2 113.3ZM511.8 128.3L515.8 125.1L520.0 126.5L522.3 128.8L524.5 132.5L526.2 136.4L521.0 136.0L515.5 134.0L512.0 131.5ZM494.2 142.6L499.0 142.0L505.5 144.5L511.0 146.5L516.0 148.5L517.4 151.3L516.4 155.2L513.5 158.0L510.0 156.5L508.5 154.4L504.0 153.7L500.3 152.2L497.4 149.2L494.2 146.3ZM509.5 157.5L514.5 157.2L516.0 158.5L513.5 161.0L510.0 162.0ZM492.2 155.9L499.6 154.4L500.3 161.8L501.8 165.5L499.6 167.0L495.9 165.5L492.9 162.6ZM482.5 171.9L488.8 173.8L488.8 177.5L485.0 178.8L481.9 176.3ZM495.0 176.0L498.5 175.7L499.2 181.0L496.5 181.8ZM475.9 180.3L481.1 181.1L480.4 184.8L476.7 185.5ZM480.1 183.6L487.4 181.8L492.9 183.6L494.7 187.3L492.9 192.8L487.4 198.2L481.9 203.7L480.1 209.2L476.5 211.0L472.8 216.5L467.4 213.7L465.5 207.4L467.4 200.1L472.8 197.3L476.5 194.6L478.3 189.1ZM478.3 209.2L482.9 212.8L488.3 218.3L483.8 221.9L476.5 221.9L474.7 218.3ZM460.1 231.4L464.1 229.8L466.5 229.8L469.7 233.0L472.8 235.4L474.0 237.4L468.1 241.0L460.9 244.9L459.7 241.0ZM477.4 236.5L488.3 232.9L489.2 242.0L491.1 249.3L484.7 250.2L479.2 247.5L477.4 242.0ZM513.0 232.9L520.2 232.0L521.1 238.4L522.1 243.8L516.6 244.7L513.9 240.2ZM460.0 291.3L472.3 290.0L473.7 284.5L477.1 285.2L478.5 290.0L477.8 298.0L473.3 299.8L471.4 302.7L467.5 297.8L462.8 296.0ZM505.1 300.7L507.5 298.3L509.1 299.1L510.7 308.7L511.8 316.7L513.1 322.3L512.3 323.9L509.9 321.5L506.7 316.7L504.3 308.7ZM497.0 268.1L505.2 267.4L513.4 273.5L514.6 281.9L514.6 286.5L505.2 287.9L497.6 290.0L495.6 283.1ZM274.4 192.4L277.4 191.6L283.3 190.9L280.3 194.6L281.8 200.5L281.1 207.9L274.4 207.9L271.4 212.4L270.0 216.8L263.3 216.1L263.3 209.4L267.0 205.0L270.0 197.6L271.4 194.6ZM261.0 229.4L268.0 230.2L272.6 230.2L276.5 232.5L274.2 237.2L272.6 241.8L266.5 241.5L259.5 240.3L260.3 234.0ZM304.4 213.9L306.7 210.8L312.9 207.7L320.6 205.4L325.3 203.9L322.2 212.4L320.6 221.7L312.9 220.1L305.2 219.4ZM354.4 190.7L363.3 190.7L365.6 200.0L367.2 212.4L357.1 213.2L355.9 203.3ZM380.0 191.4L389.6 185.5L391.1 190.0L394.1 197.4L394.8 205.5L388.9 208.5L384.4 208.5L380.0 206.2L377.3 203.3L377.3 192.9ZM421.4 214.7L426.8 213.9L432.2 220.1L431.4 225.5L429.1 226.3L424.5 223.2L421.4 220.1ZM429.9 225.5L436.8 224.8L435.3 244.9L430.6 245.7L429.9 235.6ZM399.2 168.5L406.6 167.8L407.4 172.2L405.2 175.2L399.2 174.4ZM416.3 172.2L422.9 172.2L431.8 175.9L432.5 181.1L430.3 185.5L422.9 185.5L416.3 189.2L413.3 184.0L416.3 179.6ZM473.4 114.1L480.0 114.1L480.0 120.5L473.4 120.5ZM499.6 153.7L506.3 155.9L509.2 158.1L509.2 161.1L506.3 163.3L503.3 164.0L500.3 161.8L498.9 157.4ZM489.0 176.0L495.0 176.0L495.5 184.0L492.0 186.0L489.0 183.0ZM489.6 170.5L492.0 169.5L495.4 168.5L498.0 167.8L501.2 169.0L501.2 173.0L498.0 174.0L495.7 175.7L492.0 175.7L489.6 174.0ZM500.5 175.3L503.5 175.5L503.9 179.0L500.8 178.8ZM489.2 229.2L494.7 226.5L500.2 227.4L502.9 232.9L501.1 238.4L496.5 240.2L491.1 238.4ZM383.4 221.7L385.7 218.6L391.9 215.5L397.4 213.9L402.0 217.0L402.8 226.3L401.2 229.4L398.1 231.0L393.5 232.5L391.9 231.7L387.3 227.9L383.4 224.8ZM431.8 183.3L439.2 184.0L445.1 186.3L445.9 190.7L443.6 194.4L443.6 199.6L439.2 198.8L433.3 194.4L430.3 192.9Z" fill="none" stroke="#b8b8b8" stroke-width="0.6"/>
  <path d="M337.5 132.9L336.9 127.4L327.7 128.8L325.6 135.0L322.5 139.1L321.9 146.3L325.2 150.8L328.7 148.3L332.8 142.2L335.9 137.0L337.5 132.9ZM395.2 141.8L391.5 142.6L390.7 128.9L380.1 128.9L379.6 146.3L381.8 147.0L382.6 154.4L389.2 157.4L397.4 158.8L398.9 154.4L399.6 147.0L395.2 141.8ZM175.3 152.4L172.8 167.2L191.3 171.3L193.7 154.9L175.3 152.4ZM407.4 172.2L406.6 167.8L399.2 168.5L399.2 174.4L405.2 175.2L407.4 172.2ZM283.3 167.2L284.8 190.2L293.6 189.4L290.7 166.5L283.3 167.2ZM422.9 172.2L416.3 172.2L416.3 179.6L413.3 184.0L416.3 189.2L422.9 185.5L430.3 185.5L432.5 181.1L431.8 175.9L422.9 172.2ZM263.3 216.8L262.6 216.9L261.8 212.4L249.4 210.8L247.1 217.0L243.2 221.7L240.1 225.5L258.7 232.5L261.0 229.4L260.3 234.0L259.5 240.3L264.3 241.1L272.8 241.3L274.2 237.2L276.3 232.9L278.8 234.8L283.5 231.7L292.0 231.0L292.2 219.2L292.8 219.4L303.6 217.8L302.1 205.4L286.3 207.6L286.2 207.2L281.8 207.9L274.4 208.7L271.4 212.4L274.4 207.9L281.1 207.9L281.8 200.5L280.3 194.6L283.3 190.9L277.4 191.6L274.4 192.4L277.4 187.2L270.7 182.8L270.0 178.3L255.9 179.8L256.6 193.1L261.1 199.0L263.3 205.0L267.0 205.0L263.3 209.4L263.3 216.1L270.0 216.8L263.3 216.8ZM261.8 223.2L261.8 228.6L268.0 230.2L261.0 229.4L261.8 223.2ZM268.5 199.0L271.4 194.6L270.0 197.6L267.0 205.0L268.5 199.0ZM396.6 203.1L398.1 212.4L402.8 217.0L408.2 217.0L409.7 212.4L407.5 202.7L409.6 204.8L412.6 201.8L417.0 198.8L419.2 199.9L417.0 200.3L415.9 206.2L418.3 212.4L421.4 214.7L421.4 220.1L424.5 223.2L429.1 226.3L429.9 226.0L429.9 235.6L430.6 245.7L435.3 244.9L436.2 232.8L436.2 242.5L441.0 241.7L446.5 240.2L448.9 233.0L448.1 229.0L444.6 224.0L436.2 223.5L436.2 224.9L431.4 225.3L432.2 220.1L432.5 219.9L433.0 221.7L436.8 223.2L445.4 223.2L444.6 215.5L442.2 206.2L439.2 200.3L430.3 195.9L425.9 198.8L421.0 199.6L422.2 198.8L420.0 192.9L414.0 192.9L406.6 195.9L406.6 201.8L407.1 202.3L398.4 203.0L405.9 198.8L404.4 191.4L402.2 187.0L393.3 190.0L394.8 201.1L397.4 203.0L396.6 203.1ZM389.6 185.5L380.0 191.4L377.3 192.9L377.3 199.1L375.1 195.9L366.2 196.6L367.9 212.4L374.1 212.4L374.9 211.1L374.9 213.9L378.0 217.8L381.1 218.6L385.0 215.5L387.3 210.8L385.8 208.5L388.9 208.5L394.8 205.5L394.1 197.4L391.1 190.0L389.6 185.5ZM378.0 204.1L380.0 206.2L381.6 207.1L376.4 208.8L378.0 206.2L378.0 204.1ZM357.1 213.2L367.2 212.4L365.6 200.0L363.3 190.7L354.4 190.7L355.9 203.3L357.1 213.2ZM304.4 213.9L305.2 219.4L312.9 220.1L320.6 221.7L322.2 212.4L325.3 203.9L320.6 205.4L312.9 207.7L306.7 210.8L304.4 213.9ZM402.0 217.0L397.4 213.9L391.9 215.5L385.7 218.6L383.4 221.7L383.4 224.8L387.3 227.9L391.9 231.7L393.5 232.5L398.1 231.0L401.2 229.4L402.8 226.3L402.0 217.0ZM359.6 232.8L361.0 234.1L372.6 230.2L371.0 213.9L354.0 214.7L353.2 223.2L354.8 228.6L356.1 229.8L353.2 229.4L350.1 237.2L346.5 243.0L360.2 243.4L359.6 232.8ZM435.9 117.3L435.1 123.3L432.2 126.3L430.0 129.2L430.7 142.6L433.6 147.0L432.2 154.4L430.7 161.1L432.2 165.5L432.9 170.7L435.1 170.7L436.6 164.8L439.6 166.2L442.5 168.5L447.0 169.2L452.9 166.2L457.3 161.1L458.4 166.0L459.9 172.2L460.7 178.1L462.9 182.6L463.2 182.7L465.5 187.3L466.8 187.9L464.4 187.0L457.0 188.5L457.0 188.6L454.6 189.1L456.4 196.4L461.9 200.1L462.3 199.9L462.9 200.3L469.8 198.8L467.4 200.1L465.5 207.4L467.2 213.0L465.5 211.0L458.2 212.8L457.3 219.2L458.2 225.6L463.7 227.4L469.2 223.8L470.1 216.5L468.0 214.0L472.8 216.5L476.5 211.0L477.9 210.3L474.7 218.3L476.5 221.9L480.1 221.9L481.0 227.4L485.6 229.2L491.1 227.4L492.9 221.9L502.0 220.1L509.3 218.3L516.6 216.5L522.1 212.8L527.5 214.7L533.0 218.3L539.4 216.5L540.1 211.0L538.1 206.9L534.0 202.8L530.9 200.8L525.8 198.7L520.6 197.7L515.5 195.6L511.4 197.7L507.3 198.7L501.2 197.7L492.9 194.6L489.1 196.5L492.9 192.8L494.7 187.3L493.6 185.1L495.5 184.0L495.0 176.0L489.0 176.0L489.0 182.3L487.4 181.8L482.6 183.0L482.6 176.9L485.0 178.8L488.8 177.5L488.8 173.8L485.2 172.7L486.0 172.0L489.6 172.0L489.6 174.0L492.0 175.7L495.7 175.7L498.0 174.0L501.2 173.0L501.2 169.0L498.0 167.8L495.4 168.5L492.0 169.5L491.5 169.7L492.6 168.0L492.6 160.0L491.1 157.7L490.0 162.6L485.0 162.0L483.8 158.0L484.0 153.0L489.1 152.6L488.5 150.0L488.0 142.0L491.3 138.8L492.6 135.0L492.6 130.0L495.1 127.5L492.6 121.3L488.8 112.5L491.8 107.6L495.5 103.2L498.5 97.2L497.0 94.3L492.5 92.8L490.3 96.5L482.9 95.0L479.0 95.4L475.8 97.4L473.4 101.0L472.6 109.3L469.4 108.5L465.8 108.1L463.8 109.7L459.8 114.9L457.5 117.3L435.9 117.3ZM487.9 218.6L488.3 218.3L492.9 221.9L487.9 218.6ZM482.9 212.8L479.0 209.7L480.1 209.2L481.9 203.7L482.9 202.7L485.6 211.0L488.3 218.3L482.9 212.8ZM470.0 198.8L470.0 189.5L472.8 190.9L473.3 190.4L475.0 192.6L477.2 192.6L476.5 194.6L472.8 197.3L470.0 198.8ZM445.0 144.0L452.0 143.0L456.0 147.0L455.0 154.0L449.0 154.0L445.0 150.0L445.0 144.0ZM466.3 152.0L467.0 148.0L473.0 147.0L475.5 151.0L474.0 157.5L468.0 157.0L466.3 152.0ZM456.0 158.0L456.0 152.0L463.0 150.0L466.3 154.0L465.3 159.5L470.0 158.5L474.0 162.0L481.0 161.3L482.6 166.0L482.0 173.0L476.0 175.0L473.0 170.0L466.0 171.3L462.5 166.0L462.9 161.6L459.0 162.6L456.0 158.0ZM520.6 205.0L521.0 200.0L527.0 199.5L529.0 203.0L528.0 208.5L523.0 209.0L520.6 205.0ZM450.9 201.9L457.3 200.1L455.5 194.6L450.9 187.3L445.8 190.2L445.1 186.3L439.2 184.0L431.8 183.3L430.3 192.9L433.3 194.4L439.2 198.8L443.6 199.6L443.6 194.4L444.8 192.5L445.5 198.2L450.9 201.9ZM460.1 231.4L459.7 241.0L460.8 244.6L460.1 244.9L446.4 251.7L446.4 267.9L447.1 268.0L460.0 266.7L472.3 267.4L479.2 270.8L484.6 274.9L492.9 276.3L496.0 278.4L495.6 283.1L497.6 290.0L505.2 287.9L514.6 286.5L514.6 281.9L514.3 279.6L515.5 286.5L529.2 281.9L527.3 271.0L526.4 263.7L521.0 259.1L513.7 255.5L508.2 260.0L513.7 254.6L511.9 248.2L504.6 248.2L493.6 250.9L493.6 254.6L497.3 258.2L502.8 260.0L500.9 260.0L497.3 265.5L502.8 266.4L504.9 267.4L497.0 268.1L496.9 269.4L492.9 267.4L488.8 263.3L488.8 258.5L490.1 251.0L485.1 250.1L491.1 249.3L489.2 242.0L488.3 232.9L477.4 236.5L477.4 242.0L479.2 247.5L484.3 250.0L477.8 248.9L476.4 240.7L474.0 237.4L472.8 235.4L469.7 233.0L466.5 229.8L464.1 229.8L460.1 231.4ZM506.0 268.0L510.0 270.0L511.0 271.7L506.0 268.0ZM451.9 268.2L451.9 268.8L452.1 268.8L452.1 289.1L454.9 291.0L459.2 291.0L458.2 267.3L451.9 268.2ZM473.7 284.5L472.3 290.0L460.0 291.3L461.2 293.2L466.6 296.9L467.5 297.8L467.5 297.8L467.6 297.9L470.4 300.8L470.5 301.6L471.4 302.7L473.3 299.8L477.8 298.0L478.5 290.0L477.1 285.2L473.7 284.5ZM548.8 118.7L544.4 122.4L539.2 125.4L534.8 128.3L533.7 132.0L534.8 136.5L538.5 139.4L542.9 137.2L545.9 134.2L548.8 129.8L551.1 122.4L548.8 118.7ZM515.8 125.1L511.8 128.3L512.0 131.5L515.5 134.0L521.0 136.0L526.2 136.4L524.5 132.5L522.3 128.8L520.0 126.5L515.8 125.1ZM500.0 138.0L499.7 142.3L499.0 142.0L494.2 142.6L494.2 146.3L497.4 149.2L500.3 152.2L504.0 153.7L508.5 154.4L510.0 156.5L512.0 157.4L509.5 157.5L510.0 162.0L513.5 161.0L516.0 158.5L514.5 157.2L514.3 157.2L516.4 155.2L517.4 151.3L516.9 150.3L521.8 147.8L526.0 144.0L528.5 142.3L529.0 142.0L528.0 139.0L520.0 137.0L512.0 136.0L500.0 138.0ZM499.5 154.4L492.2 155.9L492.9 162.6L495.9 165.5L499.6 167.0L501.8 165.5L500.3 161.8L503.3 164.0L506.3 163.3L509.2 161.1L509.2 158.1L506.3 155.9L499.6 153.7L499.5 154.4ZM500.5 175.3L500.8 178.8L503.9 179.0L503.5 175.6L503.4 175.5L500.5 175.3ZM495.0 176.0L496.5 181.8L499.2 181.0L498.5 175.7L495.0 176.0ZM511.1 232.9L509.3 225.6L505.7 220.1L500.2 221.9L502.9 232.9L507.5 236.5L511.1 232.9ZM496.5 240.2L501.1 238.4L502.9 232.9L500.2 227.4L494.7 226.5L489.2 229.2L491.1 238.4L496.5 240.2ZM526.6 244.7L532.1 242.0L533.9 232.9L531.2 227.4L522.1 231.1L523.0 240.2L526.6 244.7ZM516.6 244.7L522.1 243.8L521.1 238.4L520.2 232.0L513.0 232.9L513.9 240.2L516.6 244.7ZM557.4 312.9L562.9 312.9L564.7 303.8L565.0 290.0L566.2 286.3L565.4 285.6L566.5 279.1L566.5 268.3L564.3 261.8L564.0 261.3L560.1 258.2L553.8 259.1L549.2 256.4L542.8 252.8L536.5 260.0L538.3 263.7L542.8 269.1L539.2 276.4L541.0 283.7L544.7 285.5L551.9 287.4L554.7 294.7L555.6 303.8L557.4 312.9ZM603.8 314.7L604.7 300.1L602.0 299.2L592.9 298.2L588.3 300.1L583.8 297.3L578.3 298.2L579.2 307.4L578.3 316.5L580.1 322.8L582.1 322.5L585.6 320.1L591.1 318.3L592.5 318.1L594.7 316.5L599.2 317.2L600.9 316.9L603.8 314.7ZM499.5 300.7L498.7 296.0L494.7 293.8L487.5 293.6L481.2 295.2L473.2 307.1L476.4 310.3L481.2 311.9L482.0 321.5L482.8 332.6L483.6 341.4L487.5 341.4L493.9 343.0L495.5 345.4L497.9 340.6L503.5 341.4L508.3 335.8L509.9 327.8L511.2 322.8L512.3 323.9L513.1 322.3L511.8 316.7L510.7 308.7L509.1 299.1L507.5 298.3L506.3 299.5L504.3 299.9L499.5 300.7Z" fill="none" stroke="#777" stroke-width="0.85"/>
  <path d="M484.0 333.0L486.5 338.0L489.0 336.0L491.5 341.0" fill="none" stroke="#7a7a7a" stroke-width="1.3"/><path d="M495.0 333.0L497.0 339.0L500.0 336.5L502.0 340.0" fill="none" stroke="#7a7a7a" stroke-width="1.3"/><path d="M516.0 310.0L519.0 314.0L517.0 318.0" fill="none" stroke="#7a7a7a" stroke-width="1.3"/><path d="M506.5 166.5L510.0 165.2L512.6 167.2L512.0 170.6L508.8 169.6" fill="none" stroke="#7a7a7a" stroke-width="1.3"/><path d="M646.5 276.0L648.3 281.0L646.5 286.0L648.8 291.0L646.8 297.0L649.0 302.0L647.2 307.0" fill="none" stroke="#7a7a7a" stroke-width="1.3"/><path d="M632.5 259.0L635.0 262.5L633.0 266.0L635.5 268.0" fill="none" stroke="#7a7a7a" stroke-width="1.3"/><path d="M520.0 300.0L523.0 304.0L521.0 308.0L525.0 311.0" fill="none" stroke="#7a7a7a" stroke-width="1.3"/><path d="M530.0 304.0L533.0 308.0L536.0 306.0L538.0 309.0" fill="none" stroke="#7a7a7a" stroke-width="1.3"/><path d="M541.0 298.0L544.0 301.0L542.5 305.0" fill="none" stroke="#7a7a7a" stroke-width="1.3"/><path d="M501.0 196.5L504.0 193.0L507.0 194.5L510.0 191.5L513.0 193.5L516.0 192.0L519.0 195.5L523.0 194.5L527.0 197.0L531.0 198.5L534.5 201.5" fill="none" stroke="#7a7a7a" stroke-width="1.3"/><path d="M497.0 186.5L500.0 185.0L503.0 187.0L506.0 185.5L509.0 187.5L511.0 186.0" fill="none" stroke="#7a7a7a" stroke-width="1.3"/><path d="M505.0 190.0L508.0 189.0L511.0 191.0L514.0 189.5L517.0 191.0" fill="none" stroke="#7a7a7a" stroke-width="1.3"/><path d="M499.0 191.0L502.0 189.0L505.0 190.5" fill="none" stroke="#7a7a7a" stroke-width="1.3"/><path d="M512.5 185.0L515.0 184.0L517.0 186.5" fill="none" stroke="#7a7a7a" stroke-width="1.3"/><path d="M559.0 328.5L565.0 328.0L565.5 332.3L559.5 332.8Z" fill="#979797"/>
<path d="M522.3 91.0L524.4 91.3L525.9 100.2L528.1 107.6L531.1 115.0L534.0 120.2L536.0 123.0L533.0 127.0L527.0 127.0L522.0 125.0L520.0 119.0L520.5 110.0L521.5 100.0Z" fill="#979797"/>
<path d="M499.0 179.0L504.0 179.3L506.0 183.0L503.0 185.0L499.5 183.5Z" fill="#979797"/>
<path d="M589.2 297.5L602.0 298.5L602.0 303.5L595.0 302.0L589.2 303.0Z" fill="#979797"/>
  <path d="M183.7 105.4L457.5 117.3L459.8 114.9L463.8 109.7L465.8 108.1L469.4 108.5L472.6 109.3L473.4 101.0L475.8 97.4L479.0 95.4L482.9 95.0L490.3 96.5L492.5 92.8L491.8 89.1L494.8 86.9L502.2 83.2L509.6 81.0L515.5 81.7L523.7 83.9L524.4 91.3L525.9 100.2L528.1 107.6L531.1 115.0L534.0 120.2L537.0 122.4L539.2 125.4L544.4 122.4L548.8 118.0L551.8 118.7L554.0 122.4L556.2 123.9L557.0 128.3L554.8 130.5L551.1 133.5L547.4 136.5L541.4 138.7L537.0 140.2L532.6 141.6L529.2 141.8L526.2 144.1L521.8 147.8L522.5 153.7L520.3 158.1L515.9 158.9L512.9 161.8L509.2 164.0L506.0 165.0L502.0 165.5L501.3 168.8L501.3 172.5L503.2 175.0L505.1 178.8L505.3 183.3L501.2 187.4L497.0 190.5L495.0 191.5L495.0 194.6L501.2 197.7L507.3 198.7L511.4 197.7L515.5 195.6L520.6 197.7L525.8 198.7L530.9 200.8L534.0 202.8L538.1 206.9L540.1 211.0L542.1 218.3L545.8 225.6L549.4 232.9L553.1 240.2L556.7 247.5L558.5 253.0L564.3 261.8L566.5 268.3L566.5 279.1L565.4 285.6L567.4 287.3L572.8 290.9L578.3 294.6L583.8 297.3L591.1 297.3L600.2 298.2L604.7 299.2L609.3 296.4L616.6 293.7L623.9 291.9L633.0 289.1L633.6 283.4L632.5 277.0L631.4 270.5L631.4 257.5L630.3 248.8L627.1 243.4L622.8 239.1L618.4 236.9L616.7 239.1L615.2 242.3L613.0 242.3L609.8 238.0L606.5 234.7L609.8 232.6L616.3 232.6L622.8 234.1L629.3 238.0L634.7 244.5L639.0 253.1L643.3 261.8L646.6 270.5L648.7 279.1L650.3 287.3L651.3 298.2L650.3 307.4L647.6 310.1L645.8 312.8L646.7 314.7L644.9 323.8L643.0 331.1L641.2 333.8L640.0 332.0L641.2 325.6L643.0 316.5L642.1 311.0L638.5 309.2L631.2 310.1L623.9 310.1L618.4 311.9L613.0 313.7L608.4 316.5L605.7 319.2L603.8 321.0L602.9 316.5L598.4 317.4L591.1 318.3L585.6 320.1L580.1 323.8L576.5 327.4L571.0 330.2L563.7 332.3L556.0 333.0L550.5 333.0L549.7 327.8L551.3 319.9L551.3 311.9L549.7 303.9L546.6 302.3L543.4 303.9L540.2 309.1L537.0 311.9L532.2 314.3L527.4 315.1L524.2 318.3L525.8 322.3L524.2 324.7L521.0 323.1L517.8 320.7L514.7 324.7L512.3 326.3L509.9 327.8L508.3 335.8L503.5 341.4L497.9 340.6L495.5 345.4L493.9 343.0L487.5 341.4L483.6 341.4L482.8 332.6L481.1 320.0L480.1 312.4L476.2 310.4L473.3 308.5L471.4 306.6L470.4 300.8L466.6 296.9L460.8 293.0L455.0 291.1L452.1 289.1L452.1 268.8L446.3 267.9L446.3 245.6L416.7 246.5L387.3 247.2L386.5 244.1L361.0 243.4L330.0 242.6L258.7 241.0L252.5 243.4L251.0 246.5L246.3 248.0L244.5 248.3L243.8 242.9L242.0 241.9L194.6 238.3L148.5 235.6L148.0 231.0L151.2 214.9L159.2 179.8L171.9 141.5ZM523.7 370.7L528.9 370.0L532.6 370.0L536.3 364.1L542.2 355.9L549.6 350.0L556.3 346.3L560.0 347.8L563.7 349.3L564.4 355.2L567.4 358.9L571.1 361.1L575.6 358.1L578.5 357.4L579.3 362.6L579.3 370.0L574.8 371.5L564.4 371.5L555.6 371.5L546.7 372.2L539.3 373.7L534.8 375.9L533.3 379.6L531.1 378.9L527.4 375.9L524.4 373.7ZM603.2 378.1L605.3 377.4L608.7 378.8L612.8 380.1L618.2 380.1L623.7 380.1L629.2 378.8L633.3 376.0L637.4 371.9L639.4 367.8L638.1 364.4L635.3 361.7L637.4 362.3L640.8 365.8L643.5 370.5L646.3 376.0L648.3 381.5L647.6 387.0L644.2 389.7L638.8 390.4L631.9 390.4L625.1 389.7L619.6 388.3L614.1 386.3L608.7 383.5L605.3 381.5L603.2 379.4Z" fill="none" stroke="#6e6e6e" stroke-width="0.9"/>
</g>

<!-- legend -->
<rect x="111" y="288" width="221.5" height="118" rx="3" fill="#fff" stroke="#3a3a3a" stroke-width="1.2"/>
<g font-weight="bold" fill="#111" font-size="10.5">
<text x="118.5" y="306.2" textLength="205.1" lengthAdjust="spacingAndGlyphs">Average Daily Incidence Rate per 100,000</text>
<text x="118.5" y="319.6" textLength="97" lengthAdjust="spacingAndGlyphs">over last two weeks</text>
<text x="118.5" y="333.6" textLength="109.4" lengthAdjust="spacingAndGlyphs">(State Daily Rate 4.00)</text>
</g>
<g stroke-width="0.8">
<rect x="118" y="343.5" width="22" height="10.3" fill="#e1e1e1" stroke="#6a6a6a"/>
<rect x="118" y="358.4" width="22" height="10.3" fill="#38a800" stroke="#3d7a22"/>
<rect x="118" y="373.2" width="22" height="10.3" fill="#ffff00" stroke="#8c8a3a"/>
<rect x="118" y="387.8" width="22" height="10.3" fill="#ff0000" stroke="#9a2a2a"/>
</g>
<g fill="#222" font-size="9.6">
<text x="143.5" y="352.6" textLength="109.8" lengthAdjust="spacingAndGlyphs">Gray (&lt;5 reported cases)</text>
<text x="143.5" y="367.3" textLength="117.5" lengthAdjust="spacingAndGlyphs">Green (&lt;4 cases per 100k)</text>
<text x="143.5" y="382" textLength="126.8" lengthAdjust="spacingAndGlyphs">Yellow (4 - 8 cases per 100k)</text>
<text x="143.5" y="396.7" textLength="108.3" lengthAdjust="spacingAndGlyphs">Red (&gt;8 cases per 100k)</text>
</g>

<!-- footnotes -->
<g fill="#666" font-size="7.3">
<text x="114.3" y="415.1" textLength="127.7" lengthAdjust="spacingAndGlyphs">* Unknown Official City/Town (N = 69 )</text>
<text x="113.8" y="425.1" textLength="158.9" lengthAdjust="spacingAndGlyphs">Cases are excluded when City/Town is unknown.</text>
<text x="313.4" y="416.8" textLength="176.3" lengthAdjust="spacingAndGlyphs">Bureau of Infectious Disease and Laboratory Sciences</text>
<text x="395.5" y="401.3" textLength="53.7" lengthAdjust="spacingAndGlyphs">1 inch = 20 miles</text>
<text x="580.8" y="417.2" textLength="81.3" lengthAdjust="spacingAndGlyphs">* Data as of 26AUG2020</text>
<text x="579.2" y="425.3" textLength="87.6" lengthAdjust="spacingAndGlyphs">and are subject to change.</text>
</g>
<!-- north arrow -->
<text x="374.6" y="379.4" font-size="8.8" fill="#333">N</text>
<path d="M377.4 382.7 L370.4 405.2 L377.4 399.5 Z" fill="#444"/>
<path d="M377.4 382.7 L384.5 405.2 L377.4 399.5 Z" fill="#fff" stroke="#444" stroke-width="0.7"/>
</svg>
</body></html>
